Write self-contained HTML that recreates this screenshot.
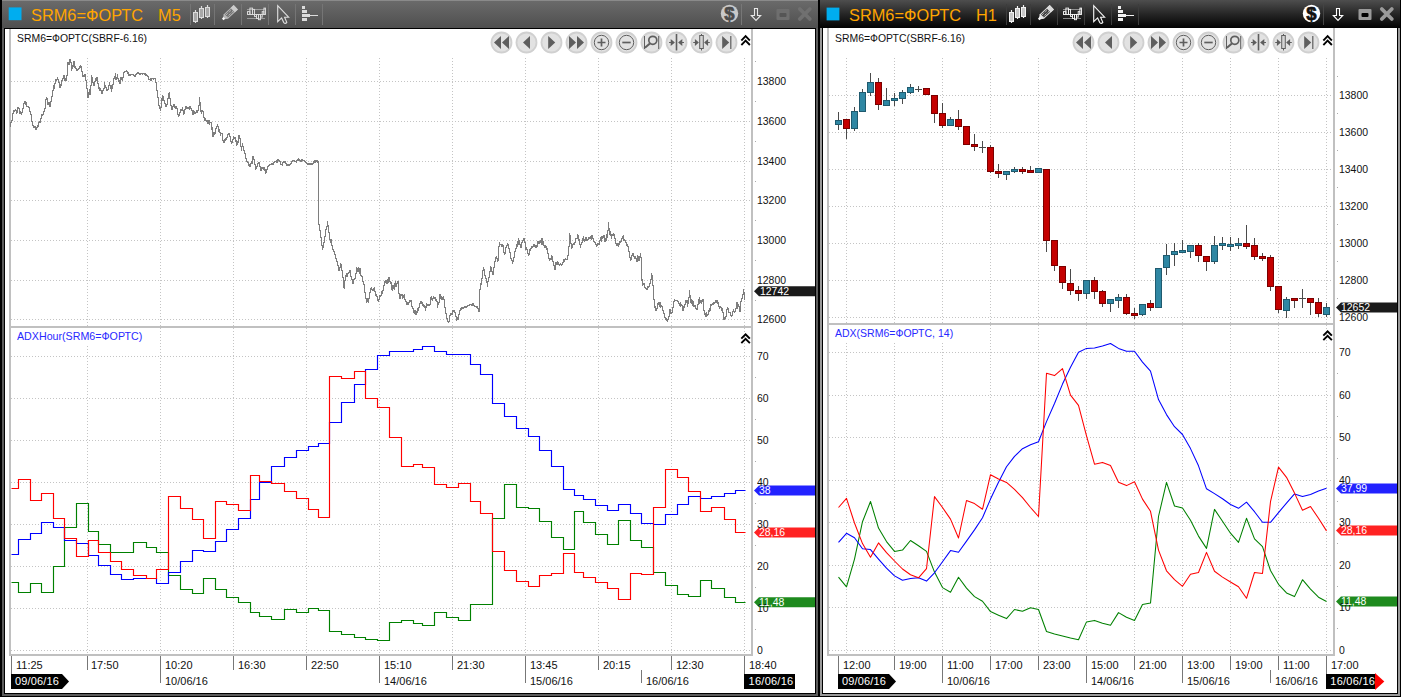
<!DOCTYPE html><html><head><meta charset="utf-8"><title>chart</title><style>
html,body{margin:0;padding:0;background:#000;}
body{width:1401px;height:697px;overflow:hidden;position:relative;font-family:"Liberation Sans", sans-serif;}
.t{position:absolute;white-space:nowrap;font-size:11px;line-height:11px;color:#111;}
.ti{position:absolute;white-space:nowrap;font-size:17px;line-height:18px;color:#ffa500;transform:scaleX(.962);transform-origin:0 0;}
.w{color:#fff;}
.b{color:#2828ff;}
svg{position:absolute;left:0;top:0;}

</style></head><body>
<svg width="1401" height="697" viewBox="0 0 1401 697">
<defs>
<linearGradient id="gl" x1="0" y1="0" x2="0" y2="1"><stop offset="0" stop-color="#6b6b6b"/><stop offset="1" stop-color="#4f4f4f"/></linearGradient>
<linearGradient id="gr" x1="0" y1="0" x2="0" y2="1"><stop offset="0" stop-color="#4e4e4e"/><stop offset="0.5" stop-color="#262626"/><stop offset="1" stop-color="#020202"/></linearGradient>
<radialGradient id="gb" cx="0.5" cy="0.5" r="0.5"><stop offset="0" stop-color="#e6e6e6"/><stop offset="0.8" stop-color="#e0e0e0"/><stop offset="1" stop-color="#cfcfcf"/></radialGradient>
</defs>
<g shape-rendering="crispEdges">
<rect x="0" y="0" width="1401" height="697" fill="#000"/>
<rect x="2" y="0" width="816" height="696" fill="#5c5c5c"/>
<rect x="2" y="0" width="816" height="28" fill="url(#gl)"/>
<rect x="2" y="0" width="816" height="1" fill="#8a8a8a"/>
<rect x="4" y="28" width="812" height="666" fill="#000"/>
<rect x="5" y="29" width="810" height="664" fill="#fff"/>
<rect x="818" y="0" width="583" height="697" fill="#000"/>
<rect x="820" y="0" width="580" height="28" fill="url(#gr)"/>
<rect x="820" y="28" width="580" height="668" fill="#9a9a9a"/>
<rect x="822" y="28" width="576" height="666" fill="#000"/>
<rect x="823" y="28" width="574" height="665" fill="#fff"/>
</g>
<g shape-rendering="crispEdges">
<rect x="9" y="29" width="2" height="627" fill="#c0c0c0"/>
<rect x="751" y="29" width="2" height="627" fill="#c0c0c0"/>
<rect x="9" y="326" width="744" height="2" fill="#c0c0c0"/>
<rect x="9" y="654" width="744" height="2" fill="#c0c0c0"/>
<path d="M87.5 58V326" stroke="#c4c4c4" stroke-width="1" stroke-dasharray="1 2" fill="none"/>
<path d="M87.5 328V654" stroke="#c4c4c4" stroke-width="1" stroke-dasharray="1 2" fill="none"/>
<path d="M160.5 58V326" stroke="#c4c4c4" stroke-width="1" stroke-dasharray="1 2" fill="none"/>
<path d="M160.5 328V654" stroke="#c4c4c4" stroke-width="1" stroke-dasharray="1 2" fill="none"/>
<path d="M233.5 58V326" stroke="#c4c4c4" stroke-width="1" stroke-dasharray="1 2" fill="none"/>
<path d="M233.5 328V654" stroke="#c4c4c4" stroke-width="1" stroke-dasharray="1 2" fill="none"/>
<path d="M306.5 58V326" stroke="#c4c4c4" stroke-width="1" stroke-dasharray="1 2" fill="none"/>
<path d="M306.5 328V654" stroke="#c4c4c4" stroke-width="1" stroke-dasharray="1 2" fill="none"/>
<path d="M379.5 58V326" stroke="#c4c4c4" stroke-width="1" stroke-dasharray="1 2" fill="none"/>
<path d="M379.5 328V654" stroke="#c4c4c4" stroke-width="1" stroke-dasharray="1 2" fill="none"/>
<path d="M452.5 58V326" stroke="#c4c4c4" stroke-width="1" stroke-dasharray="1 2" fill="none"/>
<path d="M452.5 328V654" stroke="#c4c4c4" stroke-width="1" stroke-dasharray="1 2" fill="none"/>
<path d="M525.5 58V326" stroke="#c4c4c4" stroke-width="1" stroke-dasharray="1 2" fill="none"/>
<path d="M525.5 328V654" stroke="#c4c4c4" stroke-width="1" stroke-dasharray="1 2" fill="none"/>
<path d="M598.5 58V326" stroke="#c4c4c4" stroke-width="1" stroke-dasharray="1 2" fill="none"/>
<path d="M598.5 328V654" stroke="#c4c4c4" stroke-width="1" stroke-dasharray="1 2" fill="none"/>
<path d="M671.5 58V326" stroke="#c4c4c4" stroke-width="1" stroke-dasharray="1 2" fill="none"/>
<path d="M671.5 328V654" stroke="#c4c4c4" stroke-width="1" stroke-dasharray="1 2" fill="none"/>
<path d="M744.5 58V326" stroke="#c4c4c4" stroke-width="1" stroke-dasharray="1 2" fill="none"/>
<path d="M744.5 328V654" stroke="#c4c4c4" stroke-width="1" stroke-dasharray="1 2" fill="none"/>
<path d="M11 81.5H751" stroke="#c4c4c4" stroke-width="1" stroke-dasharray="1 2" fill="none"/>
<path d="M11 121.5H751" stroke="#c4c4c4" stroke-width="1" stroke-dasharray="1 2" fill="none"/>
<path d="M11 161.5H751" stroke="#c4c4c4" stroke-width="1" stroke-dasharray="1 2" fill="none"/>
<path d="M11 200.5H751" stroke="#c4c4c4" stroke-width="1" stroke-dasharray="1 2" fill="none"/>
<path d="M11 240.5H751" stroke="#c4c4c4" stroke-width="1" stroke-dasharray="1 2" fill="none"/>
<path d="M11 280.5H751" stroke="#c4c4c4" stroke-width="1" stroke-dasharray="1 2" fill="none"/>
<path d="M11 319.5H751" stroke="#c4c4c4" stroke-width="1" stroke-dasharray="1 2" fill="none"/>
<path d="M11 356.5H751" stroke="#c4c4c4" stroke-width="1" stroke-dasharray="1 2" fill="none"/>
<path d="M11 398.5H751" stroke="#c4c4c4" stroke-width="1" stroke-dasharray="1 2" fill="none"/>
<path d="M11 440.5H751" stroke="#c4c4c4" stroke-width="1" stroke-dasharray="1 2" fill="none"/>
<path d="M11 482.5H751" stroke="#c4c4c4" stroke-width="1" stroke-dasharray="1 2" fill="none"/>
<path d="M11 524.5H751" stroke="#c4c4c4" stroke-width="1" stroke-dasharray="1 2" fill="none"/>
<path d="M11 566.5H751" stroke="#c4c4c4" stroke-width="1" stroke-dasharray="1 2" fill="none"/>
<path d="M11 608.5H751" stroke="#c4c4c4" stroke-width="1" stroke-dasharray="1 2" fill="none"/>
<path d="M11 650.5H751" stroke="#c4c4c4" stroke-width="1" stroke-dasharray="1 2" fill="none"/>
<rect x="11" y="328" width="134" height="18" fill="#fff"/>
<rect x="755" y="61" width="1" height="1" fill="#aaa"/>
<rect x="755" y="101" width="1" height="1" fill="#aaa"/>
<rect x="755" y="141" width="1" height="1" fill="#aaa"/>
<rect x="755" y="181" width="1" height="1" fill="#aaa"/>
<rect x="755" y="220" width="1" height="1" fill="#aaa"/>
<rect x="755" y="260" width="1" height="1" fill="#aaa"/>
<rect x="755" y="300" width="1" height="1" fill="#aaa"/>
<rect x="755" y="377" width="1" height="1" fill="#aaa"/>
<rect x="755" y="419" width="1" height="1" fill="#aaa"/>
<rect x="755" y="461" width="1" height="1" fill="#aaa"/>
<rect x="755" y="503" width="1" height="1" fill="#aaa"/>
<rect x="755" y="545" width="1" height="1" fill="#aaa"/>
<rect x="755" y="587" width="1" height="1" fill="#aaa"/>
<rect x="755" y="629" width="1" height="1" fill="#aaa"/>
<rect x="11" y="656" width="1" height="27" fill="#777"/>
<rect x="87" y="656" width="1" height="14" fill="#777"/>
<rect x="160" y="656" width="1" height="27" fill="#777"/>
<rect x="233" y="656" width="1" height="14" fill="#777"/>
<rect x="306" y="656" width="1" height="14" fill="#777"/>
<rect x="379" y="656" width="1" height="27" fill="#777"/>
<rect x="452" y="656" width="1" height="14" fill="#777"/>
<rect x="525" y="656" width="1" height="27" fill="#777"/>
<rect x="598" y="656" width="1" height="14" fill="#777"/>
<rect x="671" y="656" width="1" height="14" fill="#777"/>
<rect x="744" y="656" width="1" height="27" fill="#777"/>
<rect x="641" y="670" width="1" height="13" fill="#777"/>
<rect x="827" y="28" width="2" height="627" fill="#c0c0c0"/>
<rect x="1333" y="28" width="2" height="627" fill="#c0c0c0"/>
<rect x="827" y="323" width="508" height="2" fill="#c0c0c0"/>
<rect x="827" y="654" width="508" height="2" fill="#c0c0c0"/>
<path d="M846.5 58V323" stroke="#c4c4c4" stroke-width="1" stroke-dasharray="1 2" fill="none"/>
<path d="M846.5 325V654" stroke="#c4c4c4" stroke-width="1" stroke-dasharray="1 2" fill="none"/>
<path d="M894.5 58V323" stroke="#c4c4c4" stroke-width="1" stroke-dasharray="1 2" fill="none"/>
<path d="M894.5 325V654" stroke="#c4c4c4" stroke-width="1" stroke-dasharray="1 2" fill="none"/>
<path d="M942.5 58V323" stroke="#c4c4c4" stroke-width="1" stroke-dasharray="1 2" fill="none"/>
<path d="M942.5 325V654" stroke="#c4c4c4" stroke-width="1" stroke-dasharray="1 2" fill="none"/>
<path d="M990.5 58V323" stroke="#c4c4c4" stroke-width="1" stroke-dasharray="1 2" fill="none"/>
<path d="M990.5 325V654" stroke="#c4c4c4" stroke-width="1" stroke-dasharray="1 2" fill="none"/>
<path d="M1038.5 58V323" stroke="#c4c4c4" stroke-width="1" stroke-dasharray="1 2" fill="none"/>
<path d="M1038.5 325V654" stroke="#c4c4c4" stroke-width="1" stroke-dasharray="1 2" fill="none"/>
<path d="M1086.5 58V323" stroke="#c4c4c4" stroke-width="1" stroke-dasharray="1 2" fill="none"/>
<path d="M1086.5 325V654" stroke="#c4c4c4" stroke-width="1" stroke-dasharray="1 2" fill="none"/>
<path d="M1134.5 58V323" stroke="#c4c4c4" stroke-width="1" stroke-dasharray="1 2" fill="none"/>
<path d="M1134.5 325V654" stroke="#c4c4c4" stroke-width="1" stroke-dasharray="1 2" fill="none"/>
<path d="M1182.5 58V323" stroke="#c4c4c4" stroke-width="1" stroke-dasharray="1 2" fill="none"/>
<path d="M1182.5 325V654" stroke="#c4c4c4" stroke-width="1" stroke-dasharray="1 2" fill="none"/>
<path d="M1230.5 58V323" stroke="#c4c4c4" stroke-width="1" stroke-dasharray="1 2" fill="none"/>
<path d="M1230.5 325V654" stroke="#c4c4c4" stroke-width="1" stroke-dasharray="1 2" fill="none"/>
<path d="M1278.5 58V323" stroke="#c4c4c4" stroke-width="1" stroke-dasharray="1 2" fill="none"/>
<path d="M1278.5 325V654" stroke="#c4c4c4" stroke-width="1" stroke-dasharray="1 2" fill="none"/>
<path d="M1326.5 58V323" stroke="#c4c4c4" stroke-width="1" stroke-dasharray="1 2" fill="none"/>
<path d="M1326.5 325V654" stroke="#c4c4c4" stroke-width="1" stroke-dasharray="1 2" fill="none"/>
<path d="M829 95.5H1333" stroke="#c4c4c4" stroke-width="1" stroke-dasharray="1 2" fill="none"/>
<path d="M829 132.5H1333" stroke="#c4c4c4" stroke-width="1" stroke-dasharray="1 2" fill="none"/>
<path d="M829 169.5H1333" stroke="#c4c4c4" stroke-width="1" stroke-dasharray="1 2" fill="none"/>
<path d="M829 206.5H1333" stroke="#c4c4c4" stroke-width="1" stroke-dasharray="1 2" fill="none"/>
<path d="M829 243.5H1333" stroke="#c4c4c4" stroke-width="1" stroke-dasharray="1 2" fill="none"/>
<path d="M829 280.5H1333" stroke="#c4c4c4" stroke-width="1" stroke-dasharray="1 2" fill="none"/>
<path d="M829 317.5H1333" stroke="#c4c4c4" stroke-width="1" stroke-dasharray="1 2" fill="none"/>
<path d="M829 352.5H1333" stroke="#c4c4c4" stroke-width="1" stroke-dasharray="1 2" fill="none"/>
<path d="M829 395.5H1333" stroke="#c4c4c4" stroke-width="1" stroke-dasharray="1 2" fill="none"/>
<path d="M829 437.5H1333" stroke="#c4c4c4" stroke-width="1" stroke-dasharray="1 2" fill="none"/>
<path d="M829 480.5H1333" stroke="#c4c4c4" stroke-width="1" stroke-dasharray="1 2" fill="none"/>
<path d="M829 522.5H1333" stroke="#c4c4c4" stroke-width="1" stroke-dasharray="1 2" fill="none"/>
<path d="M829 565.5H1333" stroke="#c4c4c4" stroke-width="1" stroke-dasharray="1 2" fill="none"/>
<path d="M829 607.5H1333" stroke="#c4c4c4" stroke-width="1" stroke-dasharray="1 2" fill="none"/>
<path d="M829 650.5H1333" stroke="#c4c4c4" stroke-width="1" stroke-dasharray="1 2" fill="none"/>
<rect x="829" y="325" width="127" height="18" fill="#fff"/>
<rect x="1337" y="76" width="1" height="1" fill="#aaa"/>
<rect x="1337" y="113" width="1" height="1" fill="#aaa"/>
<rect x="1337" y="150" width="1" height="1" fill="#aaa"/>
<rect x="1337" y="187" width="1" height="1" fill="#aaa"/>
<rect x="1337" y="224" width="1" height="1" fill="#aaa"/>
<rect x="1337" y="261" width="1" height="1" fill="#aaa"/>
<rect x="1337" y="298" width="1" height="1" fill="#aaa"/>
<rect x="1337" y="373" width="1" height="1" fill="#aaa"/>
<rect x="1337" y="416" width="1" height="1" fill="#aaa"/>
<rect x="1337" y="458" width="1" height="1" fill="#aaa"/>
<rect x="1337" y="501" width="1" height="1" fill="#aaa"/>
<rect x="1337" y="543" width="1" height="1" fill="#aaa"/>
<rect x="1337" y="586" width="1" height="1" fill="#aaa"/>
<rect x="1337" y="628" width="1" height="1" fill="#aaa"/>
<rect x="838" y="656" width="1" height="27" fill="#777"/>
<rect x="894" y="656" width="1" height="14" fill="#777"/>
<rect x="942" y="656" width="1" height="27" fill="#777"/>
<rect x="990" y="656" width="1" height="14" fill="#777"/>
<rect x="1038" y="656" width="1" height="14" fill="#777"/>
<rect x="1086" y="656" width="1" height="27" fill="#777"/>
<rect x="1134" y="656" width="1" height="14" fill="#777"/>
<rect x="1182" y="656" width="1" height="27" fill="#777"/>
<rect x="1230" y="656" width="1" height="14" fill="#777"/>
<rect x="1278" y="656" width="1" height="14" fill="#777"/>
<rect x="1326" y="656" width="1" height="27" fill="#777"/>
<rect x="1270" y="670" width="1" height="13" fill="#777"/>
</g>
<g fill="#7e7e7e" shape-rendering="crispEdges"><rect x="10" y="122" width="1" height="5"/><rect x="11" y="120" width="1" height="3"/><rect x="12" y="113" width="1" height="8"/><rect x="13" y="110" width="1" height="4"/><rect x="14" y="110" width="1" height="2"/><rect x="15" y="109" width="1" height="2"/><rect x="16" y="110" width="1" height="4"/><rect x="17" y="107" width="1" height="6"/><rect x="18" y="107" width="1" height="2"/><rect x="19" y="108" width="1" height="6"/><rect x="20" y="111" width="1" height="3"/><rect x="21" y="112" width="1" height="3"/><rect x="22" y="108" width="1" height="5"/><rect x="23" y="103" width="1" height="6"/><rect x="24" y="101" width="1" height="3"/><rect x="25" y="101" width="1" height="4"/><rect x="26" y="102" width="1" height="5"/><rect x="27" y="106" width="1" height="1"/><rect x="28" y="106" width="1" height="2"/><rect x="29" y="107" width="1" height="5"/><rect x="30" y="111" width="1" height="4"/><rect x="31" y="114" width="1" height="8"/><rect x="32" y="121" width="1" height="5"/><rect x="33" y="125" width="1" height="3"/><rect x="34" y="126" width="1" height="2"/><rect x="35" y="126" width="1" height="4"/><rect x="36" y="127" width="1" height="3"/><rect x="37" y="125" width="1" height="3"/><rect x="38" y="122" width="1" height="5"/><rect x="39" y="121" width="1" height="2"/><rect x="40" y="118" width="1" height="5"/><rect x="41" y="114" width="1" height="5"/><rect x="42" y="114" width="1" height="2"/><rect x="43" y="111" width="1" height="4"/><rect x="44" y="108" width="1" height="4"/><rect x="45" y="99" width="1" height="10"/><rect x="46" y="97" width="1" height="3"/><rect x="47" y="98" width="1" height="7"/><rect x="48" y="102" width="1" height="3"/><rect x="49" y="102" width="1" height="5"/><rect x="50" y="101" width="1" height="6"/><rect x="51" y="96" width="1" height="6"/><rect x="52" y="90" width="1" height="7"/><rect x="53" y="85" width="1" height="6"/><rect x="54" y="83" width="1" height="6"/><rect x="55" y="79" width="1" height="5"/><rect x="56" y="79" width="1" height="2"/><rect x="57" y="77" width="1" height="3"/><rect x="58" y="79" width="1" height="4"/><rect x="59" y="82" width="1" height="6"/><rect x="60" y="84" width="1" height="4"/><rect x="61" y="80" width="1" height="6"/><rect x="62" y="78" width="1" height="3"/><rect x="63" y="75" width="1" height="4"/><rect x="64" y="75" width="1" height="6"/><rect x="65" y="78" width="1" height="3"/><rect x="66" y="75" width="1" height="6"/><rect x="67" y="62" width="1" height="14"/><rect x="68" y="62" width="1" height="3"/><rect x="69" y="59" width="1" height="6"/><rect x="70" y="59" width="1" height="4"/><rect x="71" y="62" width="1" height="9"/><rect x="72" y="65" width="1" height="4"/><rect x="73" y="61" width="1" height="6"/><rect x="74" y="61" width="1" height="7"/><rect x="75" y="66" width="1" height="3"/><rect x="76" y="68" width="1" height="3"/><rect x="77" y="69" width="1" height="2"/><rect x="78" y="68" width="1" height="2"/><rect x="79" y="66" width="1" height="3"/><rect x="80" y="65" width="1" height="3"/><rect x="81" y="66" width="1" height="6"/><rect x="82" y="71" width="1" height="6"/><rect x="83" y="75" width="1" height="2"/><rect x="84" y="74" width="1" height="3"/><rect x="85" y="74" width="1" height="7"/><rect x="86" y="80" width="1" height="9"/><rect x="87" y="88" width="1" height="10"/><rect x="88" y="92" width="1" height="6"/><rect x="89" y="89" width="1" height="6"/><rect x="90" y="85" width="1" height="10"/><rect x="91" y="75" width="1" height="11"/><rect x="92" y="77" width="1" height="6"/><rect x="93" y="82" width="1" height="4"/><rect x="94" y="81" width="1" height="5"/><rect x="95" y="78" width="1" height="4"/><rect x="96" y="77" width="1" height="4"/><rect x="97" y="77" width="1" height="7"/><rect x="98" y="83" width="1" height="6"/><rect x="99" y="87" width="1" height="4"/><rect x="100" y="88" width="1" height="3"/><rect x="101" y="90" width="1" height="4"/><rect x="102" y="90" width="1" height="4"/><rect x="103" y="88" width="1" height="3"/><rect x="104" y="82" width="1" height="7"/><rect x="105" y="85" width="1" height="3"/><rect x="106" y="87" width="1" height="4"/><rect x="107" y="89" width="1" height="2"/><rect x="108" y="85" width="1" height="5"/><rect x="109" y="82" width="1" height="4"/><rect x="110" y="85" width="1" height="4"/><rect x="111" y="85" width="1" height="7"/><rect x="112" y="84" width="1" height="5"/><rect x="113" y="78" width="1" height="7"/><rect x="114" y="76" width="1" height="3"/><rect x="115" y="73" width="1" height="7"/><rect x="116" y="77" width="1" height="3"/><rect x="117" y="74" width="1" height="5"/><rect x="118" y="78" width="1" height="4"/><rect x="119" y="80" width="1" height="4"/><rect x="120" y="77" width="1" height="7"/><rect x="121" y="77" width="1" height="3"/><rect x="122" y="77" width="1" height="4"/><rect x="123" y="72" width="1" height="6"/><rect x="124" y="71" width="1" height="2"/><rect x="125" y="71" width="1" height="1"/><rect x="126" y="70" width="1" height="2"/><rect x="127" y="71" width="1" height="3"/><rect x="128" y="72" width="1" height="4"/><rect x="129" y="74" width="1" height="2"/><rect x="130" y="74" width="1" height="2"/><rect x="131" y="74" width="1" height="1"/><rect x="132" y="74" width="1" height="1"/><rect x="133" y="74" width="1" height="2"/><rect x="134" y="75" width="1" height="2"/><rect x="135" y="74" width="1" height="3"/><rect x="136" y="73" width="1" height="2"/><rect x="137" y="72" width="1" height="2"/><rect x="138" y="72" width="1" height="2"/><rect x="139" y="73" width="1" height="2"/><rect x="140" y="73" width="1" height="2"/><rect x="141" y="73" width="1" height="1"/><rect x="142" y="73" width="1" height="2"/><rect x="143" y="73" width="1" height="1"/><rect x="144" y="73" width="1" height="2"/><rect x="145" y="73" width="1" height="3"/><rect x="146" y="74" width="1" height="2"/><rect x="147" y="75" width="1" height="2"/><rect x="148" y="76" width="1" height="4"/><rect x="149" y="79" width="1" height="1"/><rect x="150" y="78" width="1" height="3"/><rect x="151" y="78" width="1" height="3"/><rect x="152" y="78" width="1" height="1"/><rect x="153" y="78" width="1" height="2"/><rect x="154" y="78" width="1" height="1"/><rect x="155" y="78" width="1" height="5"/><rect x="156" y="82" width="1" height="9"/><rect x="157" y="90" width="1" height="8"/><rect x="158" y="97" width="1" height="9"/><rect x="159" y="105" width="1" height="4"/><rect x="160" y="107" width="1" height="4"/><rect x="161" y="98" width="1" height="10"/><rect x="162" y="95" width="1" height="6"/><rect x="163" y="96" width="1" height="5"/><rect x="164" y="100" width="1" height="4"/><rect x="165" y="103" width="1" height="4"/><rect x="166" y="104" width="1" height="3"/><rect x="167" y="98" width="1" height="7"/><rect x="168" y="93" width="1" height="6"/><rect x="169" y="92" width="1" height="7"/><rect x="170" y="98" width="1" height="8"/><rect x="171" y="105" width="1" height="5"/><rect x="172" y="106" width="1" height="4"/><rect x="173" y="104" width="1" height="3"/><rect x="174" y="104" width="1" height="4"/><rect x="175" y="106" width="1" height="3"/><rect x="176" y="106" width="1" height="3"/><rect x="177" y="108" width="1" height="7"/><rect x="178" y="114" width="1" height="3"/><rect x="179" y="112" width="1" height="4"/><rect x="180" y="109" width="1" height="4"/><rect x="181" y="109" width="1" height="2"/><rect x="182" y="107" width="1" height="4"/><rect x="183" y="110" width="1" height="5"/><rect x="184" y="109" width="1" height="5"/><rect x="185" y="106" width="1" height="4"/><rect x="186" y="106" width="1" height="3"/><rect x="187" y="107" width="1" height="2"/><rect x="188" y="107" width="1" height="2"/><rect x="189" y="106" width="1" height="4"/><rect x="190" y="106" width="1" height="3"/><rect x="191" y="108" width="1" height="3"/><rect x="192" y="110" width="1" height="5"/><rect x="193" y="110" width="1" height="5"/><rect x="194" y="111" width="1" height="3"/><rect x="195" y="112" width="1" height="2"/><rect x="196" y="110" width="1" height="3"/><rect x="197" y="110" width="1" height="3"/><rect x="198" y="105" width="1" height="6"/><rect x="199" y="97" width="1" height="9"/><rect x="200" y="102" width="1" height="10"/><rect x="201" y="110" width="1" height="4"/><rect x="202" y="110" width="1" height="2"/><rect x="203" y="111" width="1" height="7"/><rect x="204" y="117" width="1" height="4"/><rect x="205" y="118" width="1" height="3"/><rect x="206" y="120" width="1" height="2"/><rect x="207" y="120" width="1" height="4"/><rect x="208" y="120" width="1" height="4"/><rect x="209" y="120" width="1" height="5"/><rect x="210" y="122" width="1" height="1"/><rect x="211" y="122" width="1" height="8"/><rect x="212" y="127" width="1" height="10"/><rect x="213" y="132" width="1" height="5"/><rect x="214" y="132" width="1" height="3"/><rect x="215" y="128" width="1" height="6"/><rect x="216" y="126" width="1" height="3"/><rect x="217" y="124" width="1" height="3"/><rect x="218" y="126" width="1" height="6"/><rect x="219" y="129" width="1" height="4"/><rect x="220" y="132" width="1" height="4"/><rect x="221" y="133" width="1" height="1"/><rect x="222" y="133" width="1" height="8"/><rect x="223" y="140" width="1" height="3"/><rect x="224" y="139" width="1" height="4"/><rect x="225" y="138" width="1" height="3"/><rect x="226" y="137" width="1" height="3"/><rect x="227" y="134" width="1" height="4"/><rect x="228" y="133" width="1" height="2"/><rect x="229" y="133" width="1" height="4"/><rect x="230" y="136" width="1" height="6"/><rect x="231" y="141" width="1" height="3"/><rect x="232" y="139" width="1" height="4"/><rect x="233" y="136" width="1" height="4"/><rect x="234" y="137" width="1" height="2"/><rect x="235" y="137" width="1" height="5"/><rect x="236" y="140" width="1" height="6"/><rect x="237" y="141" width="1" height="4"/><rect x="238" y="135" width="1" height="8"/><rect x="239" y="135" width="1" height="4"/><rect x="240" y="138" width="1" height="9"/><rect x="241" y="146" width="1" height="5"/><rect x="242" y="143" width="1" height="4"/><rect x="243" y="146" width="1" height="5"/><rect x="244" y="150" width="1" height="4"/><rect x="245" y="153" width="1" height="6"/><rect x="246" y="158" width="1" height="4"/><rect x="247" y="161" width="1" height="2"/><rect x="248" y="162" width="1" height="4"/><rect x="249" y="164" width="1" height="3"/><rect x="250" y="163" width="1" height="4"/><rect x="251" y="161" width="1" height="3"/><rect x="252" y="156" width="1" height="8"/><rect x="253" y="156" width="1" height="4"/><rect x="254" y="159" width="1" height="6"/><rect x="255" y="164" width="1" height="6"/><rect x="256" y="166" width="1" height="3"/><rect x="257" y="163" width="1" height="4"/><rect x="258" y="162" width="1" height="2"/><rect x="259" y="162" width="1" height="5"/><rect x="260" y="166" width="1" height="5"/><rect x="261" y="167" width="1" height="4"/><rect x="262" y="167" width="1" height="2"/><rect x="263" y="167" width="1" height="3"/><rect x="264" y="167" width="1" height="4"/><rect x="265" y="169" width="1" height="5"/><rect x="266" y="169" width="1" height="4"/><rect x="267" y="166" width="1" height="4"/><rect x="268" y="165" width="1" height="2"/><rect x="269" y="164" width="1" height="2"/><rect x="270" y="164" width="1" height="1"/><rect x="271" y="163" width="1" height="2"/><rect x="272" y="163" width="1" height="2"/><rect x="273" y="162" width="1" height="3"/><rect x="274" y="161" width="1" height="2"/><rect x="275" y="161" width="1" height="1"/><rect x="276" y="160" width="1" height="3"/><rect x="277" y="159" width="1" height="4"/><rect x="278" y="159" width="1" height="2"/><rect x="279" y="160" width="1" height="2"/><rect x="280" y="161" width="1" height="4"/><rect x="281" y="164" width="1" height="1"/><rect x="282" y="162" width="1" height="4"/><rect x="283" y="161" width="1" height="2"/><rect x="284" y="161" width="1" height="2"/><rect x="285" y="161" width="1" height="3"/><rect x="286" y="163" width="1" height="3"/><rect x="287" y="164" width="1" height="2"/><rect x="288" y="164" width="1" height="2"/><rect x="289" y="164" width="1" height="2"/><rect x="290" y="163" width="1" height="2"/><rect x="291" y="161" width="1" height="3"/><rect x="292" y="160" width="1" height="2"/><rect x="293" y="160" width="1" height="1"/><rect x="294" y="160" width="1" height="2"/><rect x="295" y="161" width="1" height="1"/><rect x="296" y="160" width="1" height="3"/><rect x="297" y="159" width="1" height="2"/><rect x="298" y="158" width="1" height="3"/><rect x="299" y="159" width="1" height="2"/><rect x="300" y="160" width="1" height="2"/><rect x="301" y="159" width="1" height="3"/><rect x="302" y="159" width="1" height="2"/><rect x="303" y="160" width="1" height="1"/><rect x="304" y="160" width="1" height="2"/><rect x="305" y="161" width="1" height="2"/><rect x="306" y="162" width="1" height="2"/><rect x="307" y="163" width="1" height="2"/><rect x="308" y="163" width="1" height="2"/><rect x="309" y="163" width="1" height="2"/><rect x="310" y="163" width="1" height="2"/><rect x="311" y="163" width="1" height="2"/><rect x="312" y="163" width="1" height="2"/><rect x="313" y="161" width="1" height="3"/><rect x="314" y="160" width="1" height="3"/><rect x="315" y="160" width="1" height="3"/><rect x="316" y="160" width="1" height="2"/><rect x="317" y="160" width="1" height="3"/><rect x="318" y="161" width="1" height="64"/><rect x="319" y="224" width="1" height="7"/><rect x="320" y="230" width="1" height="8"/><rect x="321" y="237" width="1" height="9"/><rect x="322" y="245" width="1" height="5"/><rect x="323" y="242" width="1" height="6"/><rect x="324" y="236" width="1" height="7"/><rect x="325" y="229" width="1" height="8"/><rect x="326" y="226" width="1" height="4"/><rect x="327" y="221" width="1" height="6"/><rect x="328" y="225" width="1" height="8"/><rect x="329" y="232" width="1" height="8"/><rect x="330" y="239" width="1" height="4"/><rect x="331" y="239" width="1" height="7"/><rect x="332" y="245" width="1" height="5"/><rect x="333" y="249" width="1" height="3"/><rect x="334" y="251" width="1" height="4"/><rect x="335" y="254" width="1" height="5"/><rect x="336" y="258" width="1" height="4"/><rect x="337" y="261" width="1" height="5"/><rect x="338" y="265" width="1" height="6"/><rect x="339" y="267" width="1" height="4"/><rect x="340" y="263" width="1" height="5"/><rect x="341" y="264" width="1" height="7"/><rect x="342" y="270" width="1" height="8"/><rect x="343" y="277" width="1" height="11"/><rect x="344" y="280" width="1" height="9"/><rect x="345" y="275" width="1" height="6"/><rect x="346" y="273" width="1" height="4"/><rect x="347" y="273" width="1" height="4"/><rect x="348" y="272" width="1" height="2"/><rect x="349" y="270" width="1" height="3"/><rect x="350" y="270" width="1" height="7"/><rect x="351" y="276" width="1" height="4"/><rect x="352" y="279" width="1" height="5"/><rect x="353" y="279" width="1" height="5"/><rect x="354" y="278" width="1" height="2"/><rect x="355" y="273" width="1" height="6"/><rect x="356" y="267" width="1" height="7"/><rect x="357" y="268" width="1" height="4"/><rect x="358" y="267" width="1" height="5"/><rect x="359" y="268" width="1" height="6"/><rect x="360" y="268" width="1" height="8"/><rect x="361" y="275" width="1" height="2"/><rect x="362" y="276" width="1" height="6"/><rect x="363" y="281" width="1" height="4"/><rect x="364" y="284" width="1" height="9"/><rect x="365" y="292" width="1" height="7"/><rect x="366" y="298" width="1" height="5"/><rect x="367" y="298" width="1" height="4"/><rect x="368" y="298" width="1" height="5"/><rect x="369" y="292" width="1" height="7"/><rect x="370" y="288" width="1" height="5"/><rect x="371" y="287" width="1" height="3"/><rect x="372" y="289" width="1" height="2"/><rect x="373" y="288" width="1" height="3"/><rect x="374" y="287" width="1" height="5"/><rect x="375" y="291" width="1" height="5"/><rect x="376" y="294" width="1" height="3"/><rect x="377" y="296" width="1" height="5"/><rect x="378" y="299" width="1" height="3"/><rect x="379" y="295" width="1" height="5"/><rect x="380" y="295" width="1" height="2"/><rect x="381" y="291" width="1" height="5"/><rect x="382" y="290" width="1" height="4"/><rect x="383" y="285" width="1" height="6"/><rect x="384" y="281" width="1" height="5"/><rect x="385" y="280" width="1" height="3"/><rect x="386" y="280" width="1" height="4"/><rect x="387" y="279" width="1" height="5"/><rect x="388" y="277" width="1" height="6"/><rect x="389" y="277" width="1" height="5"/><rect x="390" y="281" width="1" height="3"/><rect x="391" y="282" width="1" height="8"/><rect x="392" y="285" width="1" height="6"/><rect x="393" y="285" width="1" height="4"/><rect x="394" y="283" width="1" height="7"/><rect x="395" y="281" width="1" height="6"/><rect x="396" y="283" width="1" height="4"/><rect x="397" y="281" width="1" height="3"/><rect x="398" y="281" width="1" height="13"/><rect x="399" y="293" width="1" height="6"/><rect x="400" y="294" width="1" height="5"/><rect x="401" y="294" width="1" height="2"/><rect x="402" y="294" width="1" height="5"/><rect x="403" y="295" width="1" height="3"/><rect x="404" y="294" width="1" height="6"/><rect x="405" y="299" width="1" height="3"/><rect x="406" y="301" width="1" height="4"/><rect x="407" y="302" width="1" height="3"/><rect x="408" y="302" width="1" height="3"/><rect x="409" y="300" width="1" height="3"/><rect x="410" y="300" width="1" height="2"/><rect x="411" y="300" width="1" height="7"/><rect x="412" y="306" width="1" height="3"/><rect x="413" y="308" width="1" height="5"/><rect x="414" y="310" width="1" height="4"/><rect x="415" y="310" width="1" height="5"/><rect x="416" y="311" width="1" height="4"/><rect x="417" y="308" width="1" height="5"/><rect x="418" y="307" width="1" height="4"/><rect x="419" y="303" width="1" height="5"/><rect x="420" y="301" width="1" height="3"/><rect x="421" y="301" width="1" height="3"/><rect x="422" y="302" width="1" height="4"/><rect x="423" y="304" width="1" height="3"/><rect x="424" y="305" width="1" height="3"/><rect x="425" y="306" width="1" height="5"/><rect x="426" y="303" width="1" height="5"/><rect x="427" y="304" width="1" height="2"/><rect x="428" y="304" width="1" height="2"/><rect x="429" y="304" width="1" height="2"/><rect x="430" y="297" width="1" height="8"/><rect x="431" y="296" width="1" height="4"/><rect x="432" y="298" width="1" height="3"/><rect x="433" y="296" width="1" height="3"/><rect x="434" y="297" width="1" height="2"/><rect x="435" y="297" width="1" height="4"/><rect x="436" y="299" width="1" height="3"/><rect x="437" y="301" width="1" height="7"/><rect x="438" y="302" width="1" height="3"/><rect x="439" y="294" width="1" height="9"/><rect x="440" y="294" width="1" height="5"/><rect x="441" y="296" width="1" height="4"/><rect x="442" y="297" width="1" height="3"/><rect x="443" y="296" width="1" height="4"/><rect x="444" y="299" width="1" height="9"/><rect x="445" y="307" width="1" height="7"/><rect x="446" y="313" width="1" height="6"/><rect x="447" y="318" width="1" height="4"/><rect x="448" y="321" width="1" height="2"/><rect x="449" y="315" width="1" height="7"/><rect x="450" y="313" width="1" height="3"/><rect x="451" y="313" width="1" height="2"/><rect x="452" y="310" width="1" height="5"/><rect x="453" y="310" width="1" height="2"/><rect x="454" y="310" width="1" height="3"/><rect x="455" y="312" width="1" height="5"/><rect x="456" y="316" width="1" height="5"/><rect x="457" y="317" width="1" height="3"/><rect x="458" y="314" width="1" height="6"/><rect x="459" y="310" width="1" height="5"/><rect x="460" y="308" width="1" height="3"/><rect x="461" y="307" width="1" height="3"/><rect x="462" y="307" width="1" height="2"/><rect x="463" y="307" width="1" height="2"/><rect x="464" y="306" width="1" height="2"/><rect x="465" y="306" width="1" height="2"/><rect x="466" y="306" width="1" height="2"/><rect x="467" y="305" width="1" height="2"/><rect x="468" y="305" width="1" height="1"/><rect x="469" y="304" width="1" height="2"/><rect x="470" y="304" width="1" height="1"/><rect x="471" y="304" width="1" height="2"/><rect x="472" y="303" width="1" height="3"/><rect x="473" y="303" width="1" height="3"/><rect x="474" y="305" width="1" height="2"/><rect x="475" y="306" width="1" height="1"/><rect x="476" y="306" width="1" height="2"/><rect x="477" y="306" width="1" height="3"/><rect x="478" y="308" width="1" height="4"/><rect x="479" y="289" width="1" height="23"/><rect x="480" y="283" width="1" height="7"/><rect x="481" y="278" width="1" height="7"/><rect x="482" y="270" width="1" height="9"/><rect x="483" y="267" width="1" height="4"/><rect x="484" y="269" width="1" height="7"/><rect x="485" y="275" width="1" height="4"/><rect x="486" y="278" width="1" height="5"/><rect x="487" y="281" width="1" height="6"/><rect x="488" y="277" width="1" height="5"/><rect x="489" y="271" width="1" height="7"/><rect x="490" y="266" width="1" height="6"/><rect x="491" y="267" width="1" height="5"/><rect x="492" y="271" width="1" height="4"/><rect x="493" y="267" width="1" height="8"/><rect x="494" y="261" width="1" height="7"/><rect x="495" y="257" width="1" height="5"/><rect x="496" y="256" width="1" height="3"/><rect x="497" y="258" width="1" height="4"/><rect x="498" y="246" width="1" height="15"/><rect x="499" y="242" width="1" height="5"/><rect x="500" y="244" width="1" height="1"/><rect x="501" y="244" width="1" height="3"/><rect x="502" y="244" width="1" height="3"/><rect x="503" y="245" width="1" height="8"/><rect x="504" y="252" width="1" height="3"/><rect x="505" y="247" width="1" height="7"/><rect x="506" y="245" width="1" height="3"/><rect x="507" y="243" width="1" height="3"/><rect x="508" y="244" width="1" height="5"/><rect x="509" y="248" width="1" height="5"/><rect x="510" y="252" width="1" height="7"/><rect x="511" y="258" width="1" height="3"/><rect x="512" y="260" width="1" height="4"/><rect x="513" y="257" width="1" height="5"/><rect x="514" y="251" width="1" height="7"/><rect x="515" y="248" width="1" height="4"/><rect x="516" y="244" width="1" height="5"/><rect x="517" y="241" width="1" height="6"/><rect x="518" y="238" width="1" height="7"/><rect x="519" y="240" width="1" height="5"/><rect x="520" y="244" width="1" height="4"/><rect x="521" y="242" width="1" height="6"/><rect x="522" y="240" width="1" height="3"/><rect x="523" y="238" width="1" height="3"/><rect x="524" y="238" width="1" height="5"/><rect x="525" y="242" width="1" height="8"/><rect x="526" y="247" width="1" height="3"/><rect x="527" y="249" width="1" height="5"/><rect x="528" y="253" width="1" height="3"/><rect x="529" y="249" width="1" height="6"/><rect x="530" y="248" width="1" height="3"/><rect x="531" y="246" width="1" height="3"/><rect x="532" y="246" width="1" height="2"/><rect x="533" y="244" width="1" height="3"/><rect x="534" y="244" width="1" height="3"/><rect x="535" y="245" width="1" height="3"/><rect x="536" y="245" width="1" height="3"/><rect x="537" y="241" width="1" height="6"/><rect x="538" y="241" width="1" height="3"/><rect x="539" y="241" width="1" height="3"/><rect x="540" y="240" width="1" height="3"/><rect x="541" y="238" width="1" height="7"/><rect x="542" y="238" width="1" height="7"/><rect x="543" y="241" width="1" height="5"/><rect x="544" y="245" width="1" height="3"/><rect x="545" y="245" width="1" height="3"/><rect x="546" y="246" width="1" height="4"/><rect x="547" y="248" width="1" height="6"/><rect x="548" y="253" width="1" height="6"/><rect x="549" y="258" width="1" height="3"/><rect x="550" y="258" width="1" height="2"/><rect x="551" y="255" width="1" height="5"/><rect x="552" y="256" width="1" height="6"/><rect x="553" y="261" width="1" height="5"/><rect x="554" y="265" width="1" height="5"/><rect x="555" y="262" width="1" height="8"/><rect x="556" y="262" width="1" height="3"/><rect x="557" y="261" width="1" height="4"/><rect x="558" y="262" width="1" height="3"/><rect x="559" y="264" width="1" height="2"/><rect x="560" y="263" width="1" height="2"/><rect x="561" y="264" width="1" height="2"/><rect x="562" y="262" width="1" height="3"/><rect x="563" y="259" width="1" height="4"/><rect x="564" y="259" width="1" height="3"/><rect x="565" y="258" width="1" height="2"/><rect x="566" y="259" width="1" height="1"/><rect x="567" y="255" width="1" height="5"/><rect x="568" y="246" width="1" height="10"/><rect x="569" y="233" width="1" height="14"/><rect x="570" y="235" width="1" height="9"/><rect x="571" y="243" width="1" height="6"/><rect x="572" y="244" width="1" height="4"/><rect x="573" y="243" width="1" height="2"/><rect x="574" y="242" width="1" height="3"/><rect x="575" y="238" width="1" height="5"/><rect x="576" y="238" width="1" height="1"/><rect x="577" y="234" width="1" height="5"/><rect x="578" y="235" width="1" height="6"/><rect x="579" y="239" width="1" height="6"/><rect x="580" y="244" width="1" height="4"/><rect x="581" y="242" width="1" height="3"/><rect x="582" y="238" width="1" height="5"/><rect x="583" y="236" width="1" height="5"/><rect x="584" y="239" width="1" height="3"/><rect x="585" y="237" width="1" height="4"/><rect x="586" y="237" width="1" height="4"/><rect x="587" y="239" width="1" height="2"/><rect x="588" y="237" width="1" height="3"/><rect x="589" y="237" width="1" height="2"/><rect x="590" y="236" width="1" height="3"/><rect x="591" y="235" width="1" height="5"/><rect x="592" y="235" width="1" height="4"/><rect x="593" y="238" width="1" height="4"/><rect x="594" y="241" width="1" height="2"/><rect x="595" y="242" width="1" height="3"/><rect x="596" y="244" width="1" height="3"/><rect x="597" y="243" width="1" height="3"/><rect x="598" y="243" width="1" height="2"/><rect x="599" y="240" width="1" height="5"/><rect x="600" y="237" width="1" height="4"/><rect x="601" y="236" width="1" height="6"/><rect x="602" y="236" width="1" height="3"/><rect x="603" y="235" width="1" height="3"/><rect x="604" y="235" width="1" height="7"/><rect x="605" y="238" width="1" height="4"/><rect x="606" y="234" width="1" height="7"/><rect x="607" y="230" width="1" height="8"/><rect x="608" y="222" width="1" height="9"/><rect x="609" y="228" width="1" height="7"/><rect x="610" y="231" width="1" height="5"/><rect x="611" y="234" width="1" height="5"/><rect x="612" y="234" width="1" height="2"/><rect x="613" y="233" width="1" height="3"/><rect x="614" y="234" width="1" height="5"/><rect x="615" y="238" width="1" height="6"/><rect x="616" y="243" width="1" height="3"/><rect x="617" y="243" width="1" height="3"/><rect x="618" y="243" width="1" height="4"/><rect x="619" y="241" width="1" height="4"/><rect x="620" y="241" width="1" height="2"/><rect x="621" y="238" width="1" height="4"/><rect x="622" y="236" width="1" height="3"/><rect x="623" y="235" width="1" height="6"/><rect x="624" y="239" width="1" height="2"/><rect x="625" y="240" width="1" height="3"/><rect x="626" y="242" width="1" height="4"/><rect x="627" y="244" width="1" height="3"/><rect x="628" y="246" width="1" height="6"/><rect x="629" y="251" width="1" height="7"/><rect x="630" y="257" width="1" height="4"/><rect x="631" y="255" width="1" height="5"/><rect x="632" y="253" width="1" height="3"/><rect x="633" y="253" width="1" height="4"/><rect x="634" y="256" width="1" height="3"/><rect x="635" y="256" width="1" height="3"/><rect x="636" y="258" width="1" height="4"/><rect x="637" y="255" width="1" height="7"/><rect x="638" y="256" width="1" height="5"/><rect x="639" y="256" width="1" height="5"/><rect x="640" y="253" width="1" height="5"/><rect x="641" y="257" width="1" height="24"/><rect x="642" y="279" width="1" height="7"/><rect x="643" y="283" width="1" height="2"/><rect x="644" y="283" width="1" height="5"/><rect x="645" y="287" width="1" height="2"/><rect x="646" y="288" width="1" height="2"/><rect x="647" y="286" width="1" height="4"/><rect x="648" y="286" width="1" height="2"/><rect x="649" y="283" width="1" height="4"/><rect x="650" y="279" width="1" height="5"/><rect x="651" y="273" width="1" height="7"/><rect x="652" y="275" width="1" height="11"/><rect x="653" y="285" width="1" height="15"/><rect x="654" y="299" width="1" height="9"/><rect x="655" y="306" width="1" height="5"/><rect x="656" y="308" width="1" height="3"/><rect x="657" y="303" width="1" height="6"/><rect x="658" y="302" width="1" height="3"/><rect x="659" y="302" width="1" height="5"/><rect x="660" y="302" width="1" height="6"/><rect x="661" y="305" width="1" height="2"/><rect x="662" y="306" width="1" height="5"/><rect x="663" y="310" width="1" height="4"/><rect x="664" y="313" width="1" height="5"/><rect x="665" y="317" width="1" height="3"/><rect x="666" y="318" width="1" height="3"/><rect x="667" y="319" width="1" height="3"/><rect x="668" y="316" width="1" height="4"/><rect x="669" y="309" width="1" height="8"/><rect x="670" y="309" width="1" height="5"/><rect x="671" y="312" width="1" height="2"/><rect x="672" y="307" width="1" height="6"/><rect x="673" y="301" width="1" height="7"/><rect x="674" y="299" width="1" height="3"/><rect x="675" y="300" width="1" height="1"/><rect x="676" y="300" width="1" height="1"/><rect x="677" y="300" width="1" height="2"/><rect x="678" y="301" width="1" height="3"/><rect x="679" y="303" width="1" height="3"/><rect x="680" y="302" width="1" height="5"/><rect x="681" y="304" width="1" height="2"/><rect x="682" y="305" width="1" height="6"/><rect x="683" y="306" width="1" height="5"/><rect x="684" y="304" width="1" height="4"/><rect x="685" y="300" width="1" height="5"/><rect x="686" y="300" width="1" height="3"/><rect x="687" y="300" width="1" height="7"/><rect x="688" y="297" width="1" height="7"/><rect x="689" y="290" width="1" height="8"/><rect x="690" y="295" width="1" height="8"/><rect x="691" y="299" width="1" height="5"/><rect x="692" y="300" width="1" height="6"/><rect x="693" y="301" width="1" height="6"/><rect x="694" y="305" width="1" height="2"/><rect x="695" y="305" width="1" height="4"/><rect x="696" y="308" width="1" height="2"/><rect x="697" y="304" width="1" height="6"/><rect x="698" y="299" width="1" height="6"/><rect x="699" y="297" width="1" height="7"/><rect x="700" y="300" width="1" height="3"/><rect x="701" y="300" width="1" height="4"/><rect x="702" y="299" width="1" height="3"/><rect x="703" y="299" width="1" height="12"/><rect x="704" y="310" width="1" height="5"/><rect x="705" y="313" width="1" height="4"/><rect x="706" y="312" width="1" height="5"/><rect x="707" y="314" width="1" height="2"/><rect x="708" y="310" width="1" height="5"/><rect x="709" y="308" width="1" height="4"/><rect x="710" y="304" width="1" height="7"/><rect x="711" y="304" width="1" height="2"/><rect x="712" y="303" width="1" height="2"/><rect x="713" y="302" width="1" height="3"/><rect x="714" y="302" width="1" height="2"/><rect x="715" y="300" width="1" height="3"/><rect x="716" y="300" width="1" height="3"/><rect x="717" y="300" width="1" height="4"/><rect x="718" y="302" width="1" height="5"/><rect x="719" y="306" width="1" height="3"/><rect x="720" y="306" width="1" height="2"/><rect x="721" y="307" width="1" height="4"/><rect x="722" y="308" width="1" height="5"/><rect x="723" y="312" width="1" height="8"/><rect x="724" y="317" width="1" height="3"/><rect x="725" y="316" width="1" height="3"/><rect x="726" y="309" width="1" height="8"/><rect x="727" y="307" width="1" height="3"/><rect x="728" y="308" width="1" height="5"/><rect x="729" y="312" width="1" height="1"/><rect x="730" y="312" width="1" height="4"/><rect x="731" y="315" width="1" height="2"/><rect x="732" y="311" width="1" height="5"/><rect x="733" y="309" width="1" height="3"/><rect x="734" y="311" width="1" height="2"/><rect x="735" y="308" width="1" height="4"/><rect x="736" y="302" width="1" height="7"/><rect x="737" y="302" width="1" height="7"/><rect x="738" y="304" width="1" height="3"/><rect x="739" y="306" width="1" height="6"/><rect x="740" y="301" width="1" height="11"/><rect x="741" y="298" width="1" height="4"/><rect x="742" y="294" width="1" height="5"/><rect x="743" y="289" width="1" height="6"/><rect x="744" y="292" width="1" height="8"/></g>
<path d="M11.5 582.5 H18.5 V592.5 H30.5 V583.5 H41.5 V592.5 H53.5 V566.5 H64.5 V527.5 H76.5 V503.5 H88.5 V531.5 H98.5 V544.5 H110.5 V552.5 H121.5 V552.5 H133.5 V542.5 H146.5 V547.5 H156.5 V552.5 H168.5 V575.5 H180.5 V589.5 H192.5 V593.5 H203.5 V578.5 H215.5 V589.5 H226.5 V597.5 H238.5 V602.5 H250.5 V612.5 H259.5 V616.5 H271.5 V619.5 H284.5 V609.5 H296.5 V612.5 H308.5 V608.5 H318.5 V610.5 H329.5 V631.5 H341.5 V634.5 H354.5 V637.5 H365.5 V639.5 H377.5 V640.5 H389.5 V622.5 H401.5 V620.5 H413.5 V623.5 H422.5 V625.5 H434.5 V612.5 H446.5 V617.5 H458.5 V620.5 H470.5 V604.5 H480.5 V604.5 H492.5 V518.5 H504.5 V484.5 H516.5 V507.5 H528.5 V508.5 H539.5 V521.5 H551.5 V537.5 H563.5 V549.5 H574.5 V511.5 H583.5 V522.5 H595.5 V534.5 H607.5 V544.5 H618.5 V520.5 H630.5 V540.5 H641.5 V547.5 H653.5 V572.5 H665.5 V585.5 H677.5 V594.5 H688.5 V596.5 H700.5 V580.5 H711.5 V588.5 H724.5 V597.5 H735.5 V602.5 H745.5" fill="none" stroke="#008000" stroke-width="1.150" stroke-linejoin="miter"/>
<path d="M11.5 554.5 H18.5 V539.5 H30.5 V533.5 H41.5 V522.5 H53.5 V527.5 H64.5 V540.5 H76.5 V543.5 H88.5 V555.5 H98.5 V565.5 H110.5 V574.5 H121.5 V579.5 H133.5 V578.5 H146.5 V578.5 H156.5 V583.5 H168.5 V572.5 H180.5 V561.5 H192.5 V550.5 H203.5 V551.5 H215.5 V541.5 H226.5 V529.5 H238.5 V518.5 H250.5 V499.5 H259.5 V482.5 H271.5 V466.5 H284.5 V457.5 H296.5 V450.5 H308.5 V446.5 H318.5 V443.5 H329.5 V422.5 H341.5 V402.5 H354.5 V384.5 H365.5 V369.5 H377.5 V355.5 H389.5 V351.5 H401.5 V351.5 H413.5 V349.5 H422.5 V346.5 H434.5 V351.5 H446.5 V354.5 H458.5 V354.5 H470.5 V364.5 H480.5 V374.5 H492.5 V403.5 H504.5 V416.5 H516.5 V428.5 H528.5 V436.5 H539.5 V450.5 H551.5 V466.5 H563.5 V489.5 H574.5 V495.5 H583.5 V499.5 H595.5 V505.5 H607.5 V510.5 H618.5 V504.5 H630.5 V513.5 H641.5 V523.5 H653.5 V524.5 H665.5 V514.5 H677.5 V504.5 H688.5 V496.5 H700.5 V498.5 H711.5 V496.5 H724.5 V493.5 H735.5 V490.5 H745.5" fill="none" stroke="#0000ff" stroke-width="1.150" stroke-linejoin="miter"/>
<path d="M11.5 488.5 H18.5 V479.5 H30.5 V500.5 H41.5 V493.5 H53.5 V518.5 H64.5 V538.5 H76.5 V556.5 H88.5 V540.5 H98.5 V552.5 H110.5 V561.5 H121.5 V569.5 H133.5 V575.5 H146.5 V578.5 H156.5 V569.5 H168.5 V496.5 H180.5 V508.5 H192.5 V519.5 H203.5 V538.5 H215.5 V501.5 H226.5 V504.5 H238.5 V510.5 H250.5 V475.5 H259.5 V481.5 H271.5 V483.5 H284.5 V491.5 H296.5 V498.5 H308.5 V509.5 H318.5 V517.5 H329.5 V376.5 H341.5 V378.5 H354.5 V371.5 H365.5 V398.5 H377.5 V407.5 H389.5 V437.5 H401.5 V466.5 H413.5 V464.5 H422.5 V467.5 H434.5 V484.5 H446.5 V487.5 H458.5 V483.5 H470.5 V501.5 H480.5 V513.5 H492.5 V551.5 H504.5 V570.5 H516.5 V581.5 H528.5 V586.5 H539.5 V575.5 H551.5 V573.5 H563.5 V553.5 H574.5 V572.5 H583.5 V577.5 H595.5 V582.5 H607.5 V588.5 H618.5 V599.5 H630.5 V573.5 H641.5 V574.5 H653.5 V507.5 H665.5 V469.5 H677.5 V477.5 H688.5 V491.5 H700.5 V511.5 H711.5 V507.5 H724.5 V519.5 H735.5 V532.5 H745.5" fill="none" stroke="#ff0000" stroke-width="1.150" stroke-linejoin="miter"/>
<g shape-rendering="crispEdges">
<rect x="838" y="112" width="1" height="18" fill="#4a4a4a"/>
<rect x="835" y="120" width="7" height="5" fill="#1f5a6e"/>
<rect x="836" y="121" width="5" height="3" fill="#2f87a3"/>
<rect x="846" y="119" width="1" height="20" fill="#4a4a4a"/>
<rect x="843" y="119" width="7" height="10" fill="#7a0000"/>
<rect x="844" y="120" width="5" height="8" fill="#c40000"/>
<rect x="854" y="107" width="1" height="24" fill="#4a4a4a"/>
<rect x="851" y="111" width="7" height="18" fill="#1f5a6e"/>
<rect x="852" y="112" width="5" height="16" fill="#2f87a3"/>
<rect x="862" y="89" width="1" height="23" fill="#4a4a4a"/>
<rect x="859" y="92" width="7" height="20" fill="#1f5a6e"/>
<rect x="860" y="93" width="5" height="18" fill="#2f87a3"/>
<rect x="870" y="73" width="1" height="23" fill="#4a4a4a"/>
<rect x="867" y="82" width="7" height="11" fill="#1f5a6e"/>
<rect x="868" y="83" width="5" height="9" fill="#2f87a3"/>
<rect x="878" y="78" width="1" height="32" fill="#4a4a4a"/>
<rect x="875" y="82" width="7" height="23" fill="#7a0000"/>
<rect x="876" y="83" width="5" height="21" fill="#c40000"/>
<rect x="886" y="88" width="1" height="18" fill="#4a4a4a"/>
<rect x="883" y="100" width="7" height="6" fill="#1f5a6e"/>
<rect x="884" y="101" width="5" height="4" fill="#2f87a3"/>
<rect x="894" y="93" width="1" height="13" fill="#4a4a4a"/>
<rect x="891" y="98" width="7" height="3" fill="#1f5a6e"/>
<rect x="892" y="99" width="5" height="1" fill="#2f87a3"/>
<rect x="902" y="90" width="1" height="14" fill="#4a4a4a"/>
<rect x="899" y="92" width="7" height="7" fill="#1f5a6e"/>
<rect x="900" y="93" width="5" height="5" fill="#2f87a3"/>
<rect x="910" y="84" width="1" height="10" fill="#4a4a4a"/>
<rect x="907" y="87" width="7" height="6" fill="#1f5a6e"/>
<rect x="908" y="88" width="5" height="4" fill="#2f87a3"/>
<rect x="918" y="86" width="1" height="6" fill="#4a4a4a"/>
<rect x="915" y="89" width="7" height="1" fill="#4a4a4a"/>
<rect x="926" y="88" width="1" height="7" fill="#4a4a4a"/>
<rect x="923" y="88" width="7" height="7" fill="#7a0000"/>
<rect x="924" y="89" width="5" height="5" fill="#c40000"/>
<rect x="934" y="95" width="1" height="28" fill="#4a4a4a"/>
<rect x="931" y="95" width="7" height="19" fill="#7a0000"/>
<rect x="932" y="96" width="5" height="17" fill="#c40000"/>
<rect x="942" y="103" width="1" height="25" fill="#4a4a4a"/>
<rect x="939" y="113" width="7" height="13" fill="#7a0000"/>
<rect x="940" y="114" width="5" height="11" fill="#c40000"/>
<rect x="950" y="117" width="1" height="9" fill="#4a4a4a"/>
<rect x="947" y="119" width="7" height="7" fill="#1f5a6e"/>
<rect x="948" y="120" width="5" height="5" fill="#2f87a3"/>
<rect x="958" y="110" width="1" height="20" fill="#4a4a4a"/>
<rect x="955" y="119" width="7" height="8" fill="#7a0000"/>
<rect x="956" y="120" width="5" height="6" fill="#c40000"/>
<rect x="966" y="126" width="1" height="19" fill="#4a4a4a"/>
<rect x="963" y="126" width="7" height="19" fill="#7a0000"/>
<rect x="964" y="127" width="5" height="17" fill="#c40000"/>
<rect x="974" y="134" width="1" height="17" fill="#4a4a4a"/>
<rect x="971" y="144" width="7" height="3" fill="#7a0000"/>
<rect x="972" y="145" width="5" height="1" fill="#c40000"/>
<rect x="982" y="141" width="1" height="12" fill="#4a4a4a"/>
<rect x="979" y="147" width="7" height="1" fill="#4a4a4a"/>
<rect x="990" y="145" width="1" height="28" fill="#4a4a4a"/>
<rect x="987" y="147" width="7" height="25" fill="#7a0000"/>
<rect x="988" y="148" width="5" height="23" fill="#c40000"/>
<rect x="998" y="164" width="1" height="14" fill="#4a4a4a"/>
<rect x="995" y="171" width="7" height="3" fill="#7a0000"/>
<rect x="996" y="172" width="5" height="1" fill="#c40000"/>
<rect x="1006" y="171" width="1" height="9" fill="#4a4a4a"/>
<rect x="1003" y="171" width="7" height="4" fill="#1f5a6e"/>
<rect x="1004" y="172" width="5" height="2" fill="#2f87a3"/>
<rect x="1014" y="167" width="1" height="6" fill="#4a4a4a"/>
<rect x="1011" y="169" width="7" height="3" fill="#1f5a6e"/>
<rect x="1012" y="170" width="5" height="1" fill="#2f87a3"/>
<rect x="1022" y="167" width="1" height="7" fill="#4a4a4a"/>
<rect x="1019" y="169" width="7" height="3" fill="#7a0000"/>
<rect x="1020" y="170" width="5" height="1" fill="#c40000"/>
<rect x="1030" y="166" width="1" height="7" fill="#4a4a4a"/>
<rect x="1027" y="170" width="7" height="3" fill="#7a0000"/>
<rect x="1028" y="171" width="5" height="1" fill="#c40000"/>
<rect x="1038" y="168" width="1" height="5" fill="#4a4a4a"/>
<rect x="1035" y="168" width="7" height="5" fill="#1f5a6e"/>
<rect x="1036" y="169" width="5" height="3" fill="#2f87a3"/>
<rect x="1046" y="169" width="1" height="83" fill="#4a4a4a"/>
<rect x="1043" y="169" width="7" height="72" fill="#7a0000"/>
<rect x="1044" y="170" width="5" height="70" fill="#c40000"/>
<rect x="1054" y="240" width="1" height="31" fill="#4a4a4a"/>
<rect x="1051" y="240" width="7" height="26" fill="#7a0000"/>
<rect x="1052" y="241" width="5" height="24" fill="#c40000"/>
<rect x="1062" y="266" width="1" height="23" fill="#4a4a4a"/>
<rect x="1059" y="266" width="7" height="17" fill="#7a0000"/>
<rect x="1060" y="267" width="5" height="15" fill="#c40000"/>
<rect x="1070" y="269" width="1" height="26" fill="#4a4a4a"/>
<rect x="1067" y="283" width="7" height="8" fill="#7a0000"/>
<rect x="1068" y="284" width="5" height="6" fill="#c40000"/>
<rect x="1078" y="286" width="1" height="15" fill="#4a4a4a"/>
<rect x="1075" y="290" width="7" height="4" fill="#7a0000"/>
<rect x="1076" y="291" width="5" height="2" fill="#c40000"/>
<rect x="1086" y="280" width="1" height="19" fill="#4a4a4a"/>
<rect x="1083" y="280" width="7" height="14" fill="#1f5a6e"/>
<rect x="1084" y="281" width="5" height="12" fill="#2f87a3"/>
<rect x="1094" y="277" width="1" height="22" fill="#4a4a4a"/>
<rect x="1091" y="280" width="7" height="12" fill="#7a0000"/>
<rect x="1092" y="281" width="5" height="10" fill="#c40000"/>
<rect x="1102" y="290" width="1" height="17" fill="#4a4a4a"/>
<rect x="1099" y="291" width="7" height="13" fill="#7a0000"/>
<rect x="1100" y="292" width="5" height="11" fill="#c40000"/>
<rect x="1110" y="299" width="1" height="13" fill="#4a4a4a"/>
<rect x="1107" y="299" width="7" height="5" fill="#1f5a6e"/>
<rect x="1108" y="300" width="5" height="3" fill="#2f87a3"/>
<rect x="1118" y="294" width="1" height="14" fill="#4a4a4a"/>
<rect x="1115" y="297" width="7" height="4" fill="#1f5a6e"/>
<rect x="1116" y="298" width="5" height="2" fill="#2f87a3"/>
<rect x="1126" y="294" width="1" height="21" fill="#4a4a4a"/>
<rect x="1123" y="297" width="7" height="17" fill="#7a0000"/>
<rect x="1124" y="298" width="5" height="15" fill="#c40000"/>
<rect x="1134" y="308" width="1" height="11" fill="#4a4a4a"/>
<rect x="1131" y="313" width="7" height="3" fill="#7a0000"/>
<rect x="1132" y="314" width="5" height="1" fill="#c40000"/>
<rect x="1142" y="304" width="1" height="12" fill="#4a4a4a"/>
<rect x="1139" y="304" width="7" height="11" fill="#1f5a6e"/>
<rect x="1140" y="305" width="5" height="9" fill="#2f87a3"/>
<rect x="1150" y="300" width="1" height="11" fill="#4a4a4a"/>
<rect x="1147" y="303" width="7" height="5" fill="#7a0000"/>
<rect x="1148" y="304" width="5" height="3" fill="#c40000"/>
<rect x="1158" y="268" width="1" height="40" fill="#4a4a4a"/>
<rect x="1155" y="268" width="7" height="40" fill="#1f5a6e"/>
<rect x="1156" y="269" width="5" height="38" fill="#2f87a3"/>
<rect x="1166" y="244" width="1" height="31" fill="#4a4a4a"/>
<rect x="1163" y="255" width="7" height="13" fill="#1f5a6e"/>
<rect x="1164" y="256" width="5" height="11" fill="#2f87a3"/>
<rect x="1174" y="243" width="1" height="23" fill="#4a4a4a"/>
<rect x="1171" y="251" width="7" height="4" fill="#1f5a6e"/>
<rect x="1172" y="252" width="5" height="2" fill="#2f87a3"/>
<rect x="1182" y="240" width="1" height="13" fill="#4a4a4a"/>
<rect x="1179" y="250" width="7" height="3" fill="#1f5a6e"/>
<rect x="1180" y="251" width="5" height="1" fill="#2f87a3"/>
<rect x="1190" y="245" width="1" height="13" fill="#4a4a4a"/>
<rect x="1187" y="245" width="7" height="7" fill="#1f5a6e"/>
<rect x="1188" y="246" width="5" height="5" fill="#2f87a3"/>
<rect x="1198" y="243" width="1" height="19" fill="#4a4a4a"/>
<rect x="1195" y="245" width="7" height="11" fill="#7a0000"/>
<rect x="1196" y="246" width="5" height="9" fill="#c40000"/>
<rect x="1206" y="256" width="1" height="15" fill="#4a4a4a"/>
<rect x="1203" y="256" width="7" height="6" fill="#7a0000"/>
<rect x="1204" y="257" width="5" height="4" fill="#c40000"/>
<rect x="1214" y="236" width="1" height="28" fill="#4a4a4a"/>
<rect x="1211" y="245" width="7" height="17" fill="#1f5a6e"/>
<rect x="1212" y="246" width="5" height="15" fill="#2f87a3"/>
<rect x="1222" y="237" width="1" height="13" fill="#4a4a4a"/>
<rect x="1219" y="243" width="7" height="3" fill="#1f5a6e"/>
<rect x="1220" y="244" width="5" height="1" fill="#2f87a3"/>
<rect x="1230" y="237" width="1" height="14" fill="#4a4a4a"/>
<rect x="1227" y="244" width="7" height="3" fill="#1f5a6e"/>
<rect x="1228" y="245" width="5" height="1" fill="#2f87a3"/>
<rect x="1238" y="238" width="1" height="11" fill="#4a4a4a"/>
<rect x="1235" y="243" width="7" height="3" fill="#1f5a6e"/>
<rect x="1236" y="244" width="5" height="1" fill="#2f87a3"/>
<rect x="1246" y="225" width="1" height="24" fill="#4a4a4a"/>
<rect x="1243" y="243" width="7" height="4" fill="#7a0000"/>
<rect x="1244" y="244" width="5" height="2" fill="#c40000"/>
<rect x="1254" y="238" width="1" height="22" fill="#4a4a4a"/>
<rect x="1251" y="245" width="7" height="12" fill="#7a0000"/>
<rect x="1252" y="246" width="5" height="10" fill="#c40000"/>
<rect x="1262" y="253" width="1" height="8" fill="#4a4a4a"/>
<rect x="1259" y="256" width="7" height="3" fill="#7a0000"/>
<rect x="1260" y="257" width="5" height="1" fill="#c40000"/>
<rect x="1270" y="255" width="1" height="36" fill="#4a4a4a"/>
<rect x="1267" y="257" width="7" height="30" fill="#7a0000"/>
<rect x="1268" y="258" width="5" height="28" fill="#c40000"/>
<rect x="1278" y="286" width="1" height="27" fill="#4a4a4a"/>
<rect x="1275" y="286" width="7" height="24" fill="#7a0000"/>
<rect x="1276" y="287" width="5" height="22" fill="#c40000"/>
<rect x="1286" y="297" width="1" height="21" fill="#4a4a4a"/>
<rect x="1283" y="299" width="7" height="12" fill="#1f5a6e"/>
<rect x="1284" y="300" width="5" height="10" fill="#2f87a3"/>
<rect x="1294" y="298" width="1" height="10" fill="#4a4a4a"/>
<rect x="1291" y="298" width="7" height="3" fill="#7a0000"/>
<rect x="1292" y="299" width="5" height="1" fill="#c40000"/>
<rect x="1302" y="289" width="1" height="19" fill="#4a4a4a"/>
<rect x="1299" y="298" width="7" height="1" fill="#4a4a4a"/>
<rect x="1310" y="298" width="1" height="17" fill="#4a4a4a"/>
<rect x="1307" y="298" width="7" height="5" fill="#7a0000"/>
<rect x="1308" y="299" width="5" height="3" fill="#c40000"/>
<rect x="1318" y="298" width="1" height="19" fill="#4a4a4a"/>
<rect x="1315" y="302" width="7" height="12" fill="#7a0000"/>
<rect x="1316" y="303" width="5" height="10" fill="#c40000"/>
<rect x="1326" y="303" width="1" height="14" fill="#4a4a4a"/>
<rect x="1323" y="307" width="7" height="8" fill="#1f5a6e"/>
<rect x="1324" y="308" width="5" height="6" fill="#2f87a3"/>
</g>
<path d="M838.5 577.2 L846.5 586.8 L854.5 559.1 L862.5 521.7 L870.5 501.5 L878.5 528.1 L886.5 541.6 L894.5 551.4 L902.5 550.1 L910.5 540.5 L918.5 545.7 L926.5 551.4 L934.5 572.1 L942.5 587.6 L950.5 592.2 L958.5 577.2 L966.5 588.1 L974.5 596.6 L982.5 601.3 L990.5 611.6 L998.5 615.2 L1006.5 618.6 L1014.5 609.5 L1022.5 611.3 L1030.5 607.7 L1038.5 609.5 L1046.5 631.5 L1054.5 634.1 L1062.5 635.9 L1070.5 638 L1078.5 639.8 L1086.5 621.9 L1094.5 620.4 L1102.5 623.2 L1110.5 625.3 L1118.5 612.6 L1126.5 617.3 L1134.5 620.4 L1142.5 604.4 L1150.5 603.1 L1158.5 516.5 L1166.5 482.4 L1174.5 506 L1182.5 508 L1190.5 520.3 L1198.5 536.1 L1206.5 548.4 L1214.5 509.4 L1222.5 521.2 L1230.5 533.2 L1238.5 542.4 L1246.5 518.3 L1254.5 538.9 L1262.5 546.7 L1270.5 570.5 L1278.5 584.3 L1286.5 592.9 L1294.5 596.6 L1302.5 579.7 L1310.5 589.1 L1318.5 597.2 L1326.5 601.5" fill="none" stroke="#008000" stroke-width="1.050" stroke-linejoin="round"/>
<path d="M838.5 542.4 L846.5 533.3 L854.5 537.7 L862.5 548.8 L870.5 549.6 L878.5 559.1 L886.5 568.2 L894.5 575.9 L902.5 580.3 L910.5 578.5 L918.5 577.8 L926.5 581.1 L934.5 572.8 L942.5 561.7 L950.5 550.6 L958.5 552.2 L966.5 541.1 L974.5 529.9 L982.5 517.8 L990.5 499.1 L998.5 482.3 L1006.5 466.8 L1014.5 456.4 L1022.5 448.7 L1030.5 444.8 L1038.5 441.7 L1046.5 421.6 L1054.5 403.5 L1062.5 384.1 L1070.5 367.3 L1078.5 352.3 L1086.5 348.4 L1094.5 347.9 L1102.5 346.1 L1110.5 343.5 L1118.5 348.4 L1126.5 351.3 L1134.5 351.3 L1142.5 362.1 L1150.5 371.2 L1158.5 399.6 L1166.5 414.6 L1174.5 426.7 L1182.5 434.5 L1190.5 448.6 L1198.5 465.8 L1206.5 488.8 L1214.5 493.6 L1222.5 498.8 L1230.5 504.5 L1238.5 508.3 L1246.5 502.2 L1254.5 511.7 L1262.5 522.3 L1270.5 522.3 L1278.5 512.6 L1286.5 503.1 L1294.5 493.9 L1302.5 496.5 L1310.5 494.5 L1318.5 491 L1326.5 488.2" fill="none" stroke="#0000ff" stroke-width="1.050" stroke-linejoin="round"/>
<path d="M838.5 507.5 L846.5 498.4 L854.5 523 L862.5 543.6 L870.5 557.3 L878.5 542.9 L886.5 552.7 L894.5 561 L902.5 569 L910.5 574.7 L918.5 577.8 L926.5 568.7 L934.5 496.6 L942.5 507.5 L950.5 519.1 L958.5 538 L966.5 500.5 L974.5 503.6 L982.5 509.3 L990.5 474.7 L998.5 479 L1006.5 482.4 L1014.5 489.4 L1022.5 497.6 L1030.5 507.5 L1038.5 516.5 L1046.5 373.2 L1054.5 375.6 L1062.5 368.6 L1070.5 395.2 L1078.5 405.3 L1086.5 435.8 L1094.5 464.2 L1102.5 462.4 L1110.5 465.5 L1118.5 482.3 L1126.5 485.6 L1134.5 481.8 L1142.5 499.1 L1150.5 511.3 L1158.5 550.1 L1166.5 570.8 L1174.5 579.7 L1182.5 586.3 L1190.5 574.2 L1198.5 572.5 L1206.5 552.4 L1214.5 571.3 L1222.5 577.1 L1230.5 582 L1238.5 586.8 L1246.5 598.3 L1254.5 572.5 L1262.5 573.4 L1270.5 501.7 L1278.5 467.2 L1286.5 477.3 L1294.5 493.1 L1302.5 510.3 L1310.5 506.5 L1318.5 518.3 L1326.5 530.9" fill="none" stroke="#ff0000" stroke-width="1.050" stroke-linejoin="round"/>
<path d="M754 291.2 L759 286.2 H815 V296.2 H759 Z" fill="#1a1a1a"/>
<path d="M754 490.5 L759 485.5 H815 V495.5 H759 Z" fill="#2222ff"/>
<path d="M754 532.4 L759 527.4 H815 V537.4 H759 Z" fill="#ff2222"/>
<path d="M754 602.3 L759 597.3 H815 V607.3 H759 Z" fill="#1e8a1e"/>
<path d="M1336 307.4 L1341 302.4 H1397 V312.4 H1341 Z" fill="#1a1a1a"/>
<path d="M1336 488.6 L1341 483.6 H1397 V493.6 H1341 Z" fill="#2222ff"/>
<path d="M1336 530.4 L1341 525.4 H1397 V535.4 H1341 Z" fill="#ff2222"/>
<path d="M1336 601.6 L1341 596.6 H1397 V606.6 H1341 Z" fill="#1e8a1e"/>
<path d="M11 674H62L69 681.5L62 689H11Z" fill="#000"/>
<rect x="744" y="674" width="51" height="15" fill="#000" shape-rendering="crispEdges"/>
<path d="M838 674H889L896 681.5L889 689H838Z" fill="#000"/>
<rect x="1326" y="674" width="49" height="15" fill="#000" shape-rendering="crispEdges"/>
<path d="M1375 673L1384.3 681.5L1375 690Z" fill="#ff0000"/>
<path d="M742 39.8l3.600 -3.600l3.600 3.600M742 44.3l3.600 -3.600l3.600 3.600" fill="none" stroke="#000" stroke-width="1.9" stroke-linecap="square" stroke-linejoin="miter"/>
<path d="M742 338l3.600 -3.600l3.600 3.600M742 342.5l3.600 -3.600l3.600 3.600" fill="none" stroke="#000" stroke-width="1.9" stroke-linecap="square" stroke-linejoin="miter"/>
<path d="M1324 39.8l3.600 -3.600l3.600 3.600M1324 44.3l3.600 -3.600l3.600 3.600" fill="none" stroke="#000" stroke-width="1.9" stroke-linecap="square" stroke-linejoin="miter"/>
<path d="M1324 335l3.600 -3.600l3.600 3.600M1324 339.5l3.600 -3.600l3.600 3.600" fill="none" stroke="#000" stroke-width="1.9" stroke-linecap="square" stroke-linejoin="miter"/>
<circle cx="501.5" cy="42.5" r="10.900" fill="#d0d0d0"/>
<circle cx="501.5" cy="42.5" r="9.100" fill="#e2e2e2"/>
<path d="M501 36l-7 6.5l7 6.5zM509 36l-7 6.5l7 6.5z" fill="#5e5e5e"/>
<circle cx="526.5" cy="42.5" r="10.900" fill="#d0d0d0"/>
<circle cx="526.5" cy="42.5" r="9.100" fill="#e2e2e2"/>
<path d="M530 36l-7 6.5l7 6.5z" fill="#5e5e5e"/>
<circle cx="551.5" cy="42.5" r="10.900" fill="#d0d0d0"/>
<circle cx="551.5" cy="42.5" r="9.100" fill="#e2e2e2"/>
<path d="M548.2 36l7 6.5l-7 6.5z" fill="#5e5e5e"/>
<circle cx="576.5" cy="42.5" r="10.900" fill="#d0d0d0"/>
<circle cx="576.5" cy="42.5" r="9.100" fill="#e2e2e2"/>
<path d="M569 36l7 6.5l-7 6.5zM577 36l7 6.5l-7 6.5z" fill="#5e5e5e"/>
<circle cx="601.5" cy="42.5" r="10.900" fill="#d0d0d0"/>
<circle cx="601.5" cy="42.5" r="9.100" fill="#e2e2e2"/>
<circle cx="601.5" cy="42.5" r="7.2" fill="none" stroke="#5e5e5e" stroke-width="1"/>
<path d="M597.5 42.5h8M601.5 38.5v8" stroke="#5e5e5e" stroke-width="1.7" fill="none"/>
<circle cx="626.5" cy="42.5" r="10.900" fill="#d0d0d0"/>
<circle cx="626.5" cy="42.5" r="9.100" fill="#e2e2e2"/>
<circle cx="626.5" cy="42.5" r="7.2" fill="none" stroke="#5e5e5e" stroke-width="1"/>
<path d="M622.3 42.5h8.4" stroke="#5e5e5e" stroke-width="1.7" fill="none"/>
<circle cx="651.5" cy="42.5" r="10.900" fill="#d0d0d0"/>
<circle cx="651.5" cy="42.5" r="9.100" fill="#e2e2e2"/>
<path d="M644.5 36.0v13M658.7 36.0v13" stroke="#5e5e5e" stroke-width="1" fill="none"/>
<circle cx="652.8" cy="40.3" r="4" fill="none" stroke="#5e5e5e" stroke-width="1.7"/>
<path d="M649.9 43.5l-5 4.300" stroke="#5e5e5e" stroke-width="2" fill="none"/>
<circle cx="676.5" cy="42.5" r="10.900" fill="#d0d0d0"/>
<circle cx="676.5" cy="42.5" r="9.100" fill="#e2e2e2"/>
<path d="M676.5 34.0v16.500" stroke="#5e5e5e" stroke-width="1.6" fill="none"/>
<path d="M669.0 42.5h4M684.0 42.5h-4" stroke="#5e5e5e" stroke-width="1.2" fill="none"/>
<path d="M674.9 42.5l-4.200 -3.500v7zM678.1 42.5l4.200 -3.500v7z" fill="#5e5e5e"/>
<circle cx="701.5" cy="42.5" r="10.900" fill="#d0d0d0"/>
<circle cx="701.5" cy="42.5" r="9.100" fill="#e2e2e2"/>
<path d="M701.5 34.0v16.500" stroke="#5e5e5e" stroke-width="1" fill="none"/>
<rect x="699.7" y="35.5" width="3.600" height="13" fill="#d4d4d4" stroke="#5e5e5e" stroke-width="1"/>
<path d="M693.2 42.5h3.500M709.8 42.5h-3.500" stroke="#5e5e5e" stroke-width="1.2" fill="none"/>
<path d="M698.9 42.5l-4 -3.500v7zM704.1 42.5l4 -3.500v7z" fill="#5e5e5e"/>
<circle cx="726.5" cy="42.5" r="10.900" fill="#d0d0d0"/>
<circle cx="726.5" cy="42.5" r="9.100" fill="#e2e2e2"/>
<path d="M722.2 36l7 6.5l-7 6.5z" fill="#5e5e5e"/>
<path d="M730.8 36.0v13" stroke="#5e5e5e" stroke-width="1.2" fill="none"/>
<circle cx="1083.5" cy="42.5" r="10.900" fill="#d0d0d0"/>
<circle cx="1083.5" cy="42.5" r="9.100" fill="#e2e2e2"/>
<path d="M1083 36l-7 6.5l7 6.5zM1091 36l-7 6.5l7 6.5z" fill="#5e5e5e"/>
<circle cx="1108.5" cy="42.5" r="10.900" fill="#d0d0d0"/>
<circle cx="1108.5" cy="42.5" r="9.100" fill="#e2e2e2"/>
<path d="M1112 36l-7 6.5l7 6.5z" fill="#5e5e5e"/>
<circle cx="1133.5" cy="42.5" r="10.900" fill="#d0d0d0"/>
<circle cx="1133.5" cy="42.5" r="9.100" fill="#e2e2e2"/>
<path d="M1130.2 36l7 6.5l-7 6.5z" fill="#5e5e5e"/>
<circle cx="1158.5" cy="42.5" r="10.900" fill="#d0d0d0"/>
<circle cx="1158.5" cy="42.5" r="9.100" fill="#e2e2e2"/>
<path d="M1151 36l7 6.5l-7 6.5zM1159 36l7 6.5l-7 6.5z" fill="#5e5e5e"/>
<circle cx="1183.5" cy="42.5" r="10.900" fill="#d0d0d0"/>
<circle cx="1183.5" cy="42.5" r="9.100" fill="#e2e2e2"/>
<circle cx="1183.5" cy="42.5" r="7.2" fill="none" stroke="#5e5e5e" stroke-width="1"/>
<path d="M1179.5 42.5h8M1183.5 38.5v8" stroke="#5e5e5e" stroke-width="1.7" fill="none"/>
<circle cx="1208.5" cy="42.5" r="10.900" fill="#d0d0d0"/>
<circle cx="1208.5" cy="42.5" r="9.100" fill="#e2e2e2"/>
<circle cx="1208.5" cy="42.5" r="7.2" fill="none" stroke="#5e5e5e" stroke-width="1"/>
<path d="M1204.3 42.5h8.4" stroke="#5e5e5e" stroke-width="1.7" fill="none"/>
<circle cx="1233.5" cy="42.5" r="10.900" fill="#d0d0d0"/>
<circle cx="1233.5" cy="42.5" r="9.100" fill="#e2e2e2"/>
<path d="M1226.5 36.0v13M1240.7 36.0v13" stroke="#5e5e5e" stroke-width="1" fill="none"/>
<circle cx="1234.8" cy="40.3" r="4" fill="none" stroke="#5e5e5e" stroke-width="1.7"/>
<path d="M1231.9 43.5l-5 4.300" stroke="#5e5e5e" stroke-width="2" fill="none"/>
<circle cx="1258.5" cy="42.5" r="10.900" fill="#d0d0d0"/>
<circle cx="1258.5" cy="42.5" r="9.100" fill="#e2e2e2"/>
<path d="M1258.5 34.0v16.500" stroke="#5e5e5e" stroke-width="1.6" fill="none"/>
<path d="M1251.0 42.5h4M1266.0 42.5h-4" stroke="#5e5e5e" stroke-width="1.2" fill="none"/>
<path d="M1256.9 42.5l-4.200 -3.500v7zM1260.1 42.5l4.200 -3.500v7z" fill="#5e5e5e"/>
<circle cx="1283.5" cy="42.5" r="10.900" fill="#d0d0d0"/>
<circle cx="1283.5" cy="42.5" r="9.100" fill="#e2e2e2"/>
<path d="M1283.5 34.0v16.500" stroke="#5e5e5e" stroke-width="1" fill="none"/>
<rect x="1281.7" y="35.5" width="3.600" height="13" fill="#d4d4d4" stroke="#5e5e5e" stroke-width="1"/>
<path d="M1275.2 42.5h3.500M1291.8 42.5h-3.500" stroke="#5e5e5e" stroke-width="1.2" fill="none"/>
<path d="M1280.9 42.5l-4 -3.500v7zM1286.1 42.5l4 -3.500v7z" fill="#5e5e5e"/>
<circle cx="1308.5" cy="42.5" r="10.900" fill="#d0d0d0"/>
<circle cx="1308.5" cy="42.5" r="9.100" fill="#e2e2e2"/>
<path d="M1304.2 36l7 6.5l-7 6.5z" fill="#5e5e5e"/>
<path d="M1312.8 36.0v13" stroke="#5e5e5e" stroke-width="1.2" fill="none"/>
<rect x="190" y="4" width="1" height="21" fill="#757575" shape-rendering="crispEdges"/>
<rect x="214" y="4" width="1" height="21" fill="#757575" shape-rendering="crispEdges"/>
<rect x="241" y="4" width="1" height="21" fill="#757575" shape-rendering="crispEdges"/>
<rect x="268" y="4" width="1" height="21" fill="#757575" shape-rendering="crispEdges"/>
<rect x="295" y="4" width="1" height="21" fill="#757575" shape-rendering="crispEdges"/>
<rect x="322" y="4" width="1" height="21" fill="#757575" shape-rendering="crispEdges"/>
<path d="M195.5 10V23" stroke="#dcdcdc" stroke-width="1.2"/>
<rect x="193.5" y="12.5" width="4" height="9" fill="#a8a8a8" stroke="#dcdcdc" stroke-width="1"/>
<path d="M201.5 6V19" stroke="#dcdcdc" stroke-width="1.2"/>
<rect x="199.5" y="8.5" width="4" height="9" fill="#a8a8a8" stroke="#dcdcdc" stroke-width="1"/>
<path d="M207.5 5V18" stroke="#dcdcdc" stroke-width="1.2"/>
<rect x="205.5" y="7.5" width="4" height="9" fill="#a8a8a8" stroke="#dcdcdc" stroke-width="1"/>
<g transform="translate(222.6,19.5) rotate(-42.8)"><path d="M0 0L4.500 -3.100H18V3.100H4.500Z" fill="#b8b8b8"/><rect x="14" y="-3.100" width="4" height="6.200" fill="#cbcbcb"/><rect x="5.200" y="-2.100" width="8.300" height="4.200" fill="#6e6e6e"/><path d="M5.500 -1H13.500M6 1H13.500" stroke="#d8d8d8" stroke-width="0.900" stroke-dasharray="1 1"/><rect x="0.200" y="-1.100" width="2.200" height="2.200" fill="#f8f8f8"/></g>
<path d="M247 9.500H265M247 18.500H265" stroke="#dcdcdc" stroke-width="0.9" opacity="0.55"/>
<rect x="247.5" y="11.6" width="2.4" height="2.9" fill="none" stroke="#dcdcdc" stroke-width="0.950"/>
<rect x="249.9" y="8.1" width="2.6" height="6.4" fill="none" stroke="#dcdcdc" stroke-width="0.950"/>
<rect x="252.5" y="9.4" width="2" height="5.1" fill="none" stroke="#dcdcdc" stroke-width="0.950"/>
<rect x="254.5" y="14.5" width="2" height="1.9" fill="none" stroke="#dcdcdc" stroke-width="0.950"/>
<rect x="256.5" y="14.5" width="2" height="3.9" fill="none" stroke="#dcdcdc" stroke-width="0.950"/>
<rect x="258.5" y="14.5" width="2" height="5.2" fill="none" stroke="#dcdcdc" stroke-width="0.950"/>
<rect x="260.5" y="14.5" width="1.7" height="2.6" fill="none" stroke="#dcdcdc" stroke-width="0.950"/>
<rect x="262.2" y="11.6" width="1.7" height="2.9" fill="none" stroke="#dcdcdc" stroke-width="0.950"/>
<rect x="263.9" y="8.1" width="1.6" height="6.4" fill="none" stroke="#dcdcdc" stroke-width="0.950"/>
<path d="M277.7 5.600V21.600L281.6 17.900L283.8 22.600Q285.3 24.300 286.8 22.400L284.6 17.200H288.6Z" fill="none" stroke="#dcdcdc" stroke-width="1.150" stroke-linejoin="miter"/>
<rect x="302" y="6" width="3" height="3" fill="#dcdcdc"/><rect x="302" y="10" width="5" height="3" fill="#dcdcdc"/><rect x="302" y="14" width="8" height="3" fill="#dcdcdc"/><rect x="302" y="18" width="5" height="3" fill="#dcdcdc"/><rect x="310" y="15" width="8" height="1" fill="#dcdcdc"/>
<rect x="1006" y="4" width="1" height="21" fill="#3c3c3c" shape-rendering="crispEdges"/>
<rect x="1030" y="4" width="1" height="21" fill="#3c3c3c" shape-rendering="crispEdges"/>
<rect x="1057" y="4" width="1" height="21" fill="#3c3c3c" shape-rendering="crispEdges"/>
<rect x="1084" y="4" width="1" height="21" fill="#3c3c3c" shape-rendering="crispEdges"/>
<rect x="1111" y="4" width="1" height="21" fill="#3c3c3c" shape-rendering="crispEdges"/>
<rect x="1138" y="4" width="1" height="21" fill="#3c3c3c" shape-rendering="crispEdges"/>
<path d="M1011.5 10V23" stroke="#f2f2f2" stroke-width="1.2"/>
<rect x="1009.5" y="12.5" width="4" height="9" fill="#c8c8c8" stroke="#f2f2f2" stroke-width="1"/>
<path d="M1017.5 6V19" stroke="#f2f2f2" stroke-width="1.2"/>
<rect x="1015.5" y="8.5" width="4" height="9" fill="#c8c8c8" stroke="#f2f2f2" stroke-width="1"/>
<path d="M1023.5 5V18" stroke="#f2f2f2" stroke-width="1.2"/>
<rect x="1021.5" y="7.5" width="4" height="9" fill="#c8c8c8" stroke="#f2f2f2" stroke-width="1"/>
<g transform="translate(1038.6,19.5) rotate(-42.8)"><path d="M0 0L4.500 -3.100H18V3.100H4.500Z" fill="#e6e6e6"/><rect x="14" y="-3.100" width="4" height="6.200" fill="#dadada"/><rect x="5.200" y="-2.100" width="8.300" height="4.200" fill="#3a3a3a"/><path d="M5.500 -1H13.500M6 1H13.500" stroke="#f4f4f4" stroke-width="0.900" stroke-dasharray="1 1"/><rect x="0.200" y="-1.100" width="2.200" height="2.200" fill="#f8f8f8"/></g>
<path d="M1063 9.500H1081M1063 18.500H1081" stroke="#f2f2f2" stroke-width="0.9" opacity="0.55"/>
<rect x="1063.5" y="11.6" width="2.4" height="2.9" fill="none" stroke="#f2f2f2" stroke-width="0.950"/>
<rect x="1065.9" y="8.1" width="2.6" height="6.4" fill="none" stroke="#f2f2f2" stroke-width="0.950"/>
<rect x="1068.5" y="9.4" width="2" height="5.1" fill="none" stroke="#f2f2f2" stroke-width="0.950"/>
<rect x="1070.5" y="14.5" width="2" height="1.9" fill="none" stroke="#f2f2f2" stroke-width="0.950"/>
<rect x="1072.5" y="14.5" width="2" height="3.9" fill="none" stroke="#f2f2f2" stroke-width="0.950"/>
<rect x="1074.5" y="14.5" width="2" height="5.2" fill="none" stroke="#f2f2f2" stroke-width="0.950"/>
<rect x="1076.5" y="14.5" width="1.7" height="2.6" fill="none" stroke="#f2f2f2" stroke-width="0.950"/>
<rect x="1078.2" y="11.6" width="1.7" height="2.9" fill="none" stroke="#f2f2f2" stroke-width="0.950"/>
<rect x="1079.9" y="8.1" width="1.6" height="6.4" fill="none" stroke="#f2f2f2" stroke-width="0.950"/>
<path d="M1093.7 5.600V21.600L1097.6 17.900L1099.8 22.600Q1101.3 24.300 1102.8 22.400L1100.6 17.200H1104.6Z" fill="none" stroke="#f2f2f2" stroke-width="1.150" stroke-linejoin="miter"/>
<rect x="1118" y="6" width="3" height="3" fill="#f2f2f2"/><rect x="1118" y="10" width="5" height="3" fill="#f2f2f2"/><rect x="1118" y="14" width="8" height="3" fill="#f2f2f2"/><rect x="1118" y="18" width="5" height="3" fill="#f2f2f2"/><rect x="1126" y="15" width="8" height="1" fill="#f2f2f2"/>
<circle cx="729.5" cy="13.5" r="8.700" fill="#c8c8c8"/>
<text opacity="0.99" x="729.5" y="19.800" font-family='Liberation Sans' font-size="18.500" font-weight="bold" text-anchor="middle" fill="#4a4a4a" stroke="#4a4a4a" stroke-width="0.700">$</text>
<rect x="741.0" y="4" width="1" height="21" fill="#777" shape-rendering="crispEdges"/>
<path d="M754.5 8.500h3v7h3.200l-4.700 5l-4.700 -5h3.200z" fill="none" stroke="#e8e8e8" stroke-width="1.100"/>
<rect x="776.5" y="9" width="13" height="11" rx="1" fill="#6e6e6e"/><rect x="779.5" y="13" width="7" height="4" rx="1" fill="#555"/>
<path d="M799.8 9l10 10M809.8 9l-10 10" stroke="#707070" stroke-width="3.800" stroke-linecap="round"/>
<circle cx="1311.5" cy="13.5" r="8.7" fill="#fff"/>
<text opacity="0.99" x="1311.5" y="19.800" font-family='Liberation Sans' font-size="18.500" font-weight="bold" text-anchor="middle" fill="#111" stroke="#111" stroke-width="0.700">$</text>
<rect x="1323.0" y="4" width="1" height="21" fill="#444" shape-rendering="crispEdges"/>
<path d="M1336.5 8.500h3v7h3.200l-4.700 5l-4.700 -5h3.200z" fill="none" stroke="#fff" stroke-width="1.100"/>
<rect x="1358.5" y="9" width="13" height="11" rx="1" fill="#9a9a9a"/><rect x="1361.5" y="13" width="7" height="4" rx="1" fill="#000"/>
<path d="M1381.8 9l10 10M1391.8 9l-10 10" stroke="#9a9a9a" stroke-width="3.800" stroke-linecap="round"/>
<rect x="8.700" y="7.400" width="12.800" height="12.800" fill="#00adef"/>
<rect x="826.600" y="7.600" width="12.800" height="12.800" fill="#00adef"/>
</svg>
<div class="ti" style="left:31.2px;top:7px;">SRM6=ФОРТС<span style="margin-left:15.500px">M5</span></div>
<div class="ti" style="left:849.3px;top:6.8px;">SRM6=ФОРТС<span style="margin-left:15.500px">H1</span></div>
<div class="t" style="left:17.2px;top:32.8px;transform:scaleX(.948);transform-origin:0 0;">SRM6=ФОРТС(SBRF-6.16)</div>
<div class="t" style="left:835.2px;top:32.8px;transform:scaleX(.948);transform-origin:0 0;">SRM6=ФОРТС(SBRF-6.16)</div>
<div class="t b" style="left:17.2px;top:330.5px;transform:scaleX(.97);transform-origin:0 0;">ADXHour(SRM6=ФОРТС)</div>
<div class="t b" style="left:835.2px;top:328px;transform:scaleX(.955);transform-origin:0 0;">ADX(SRM6=ФОРТС, 14)</div>
<div class="t" style="left:756.5px;top:76.2px;transform:scaleX(.95);transform-origin:0 0;">13800</div>
<div class="t" style="left:756.5px;top:116.2px;transform:scaleX(.95);transform-origin:0 0;">13600</div>
<div class="t" style="left:756.5px;top:156.2px;transform:scaleX(.95);transform-origin:0 0;">13400</div>
<div class="t" style="left:756.5px;top:195.2px;transform:scaleX(.95);transform-origin:0 0;">13200</div>
<div class="t" style="left:756.5px;top:235.2px;transform:scaleX(.95);transform-origin:0 0;">13000</div>
<div class="t" style="left:756.5px;top:275.2px;transform:scaleX(.95);transform-origin:0 0;">12800</div>
<div class="t" style="left:756.5px;top:314.2px;transform:scaleX(.95);transform-origin:0 0;">12600</div>
<div class="t" style="left:756.5px;top:351.2px;transform:scaleX(.95);transform-origin:0 0;">70</div>
<div class="t" style="left:756.5px;top:393.2px;transform:scaleX(.95);transform-origin:0 0;">60</div>
<div class="t" style="left:756.5px;top:435.2px;transform:scaleX(.95);transform-origin:0 0;">50</div>
<div class="t" style="left:756.5px;top:477.2px;transform:scaleX(.95);transform-origin:0 0;">40</div>
<div class="t" style="left:756.5px;top:519.2px;transform:scaleX(.95);transform-origin:0 0;">30</div>
<div class="t" style="left:756.5px;top:561.2px;transform:scaleX(.95);transform-origin:0 0;">20</div>
<div class="t" style="left:756.5px;top:603.2px;transform:scaleX(.95);transform-origin:0 0;">10</div>
<div class="t" style="left:756.5px;top:645.2px;transform:scaleX(.95);transform-origin:0 0;">0</div>
<div class="t" style="left:1338.5px;top:90.2px;transform:scaleX(.95);transform-origin:0 0;">13800</div>
<div class="t" style="left:1338.5px;top:127.2px;transform:scaleX(.95);transform-origin:0 0;">13600</div>
<div class="t" style="left:1338.5px;top:164.2px;transform:scaleX(.95);transform-origin:0 0;">13400</div>
<div class="t" style="left:1338.5px;top:201.2px;transform:scaleX(.95);transform-origin:0 0;">13200</div>
<div class="t" style="left:1338.5px;top:238.2px;transform:scaleX(.95);transform-origin:0 0;">13000</div>
<div class="t" style="left:1338.5px;top:275.2px;transform:scaleX(.95);transform-origin:0 0;">12800</div>
<div class="t" style="left:1338.5px;top:312.2px;transform:scaleX(.95);transform-origin:0 0;">12600</div>
<div class="t" style="left:1338.5px;top:347.2px;transform:scaleX(.95);transform-origin:0 0;">70</div>
<div class="t" style="left:1338.5px;top:390.2px;transform:scaleX(.95);transform-origin:0 0;">60</div>
<div class="t" style="left:1338.5px;top:432.2px;transform:scaleX(.95);transform-origin:0 0;">50</div>
<div class="t" style="left:1338.5px;top:475.2px;transform:scaleX(.95);transform-origin:0 0;">40</div>
<div class="t" style="left:1338.5px;top:517.2px;transform:scaleX(.95);transform-origin:0 0;">30</div>
<div class="t" style="left:1338.5px;top:560.2px;transform:scaleX(.95);transform-origin:0 0;">20</div>
<div class="t" style="left:1338.5px;top:602.2px;transform:scaleX(.95);transform-origin:0 0;">10</div>
<div class="t" style="left:1338.5px;top:645.2px;transform:scaleX(.95);transform-origin:0 0;">0</div>
<div class="t w" style="left:759.5px;top:285.9px;transform:scaleX(.95);transform-origin:0 0;">12742</div>
<div class="t w" style="left:759.3px;top:485.2px;transform:scaleX(.95);transform-origin:0 0;">38</div>
<div class="t w" style="left:759.3px;top:527.1px;transform:scaleX(.95);transform-origin:0 0;">28,16</div>
<div class="t w" style="left:759.3px;top:597px;transform:scaleX(.95);transform-origin:0 0;">11,48</div>
<div class="t w" style="left:1341px;top:302.1px;transform:scaleX(.95);transform-origin:0 0;">12652</div>
<div class="t w" style="left:1340.6px;top:483.3px;transform:scaleX(.95);transform-origin:0 0;">37,99</div>
<div class="t w" style="left:1340.6px;top:525.1px;transform:scaleX(.95);transform-origin:0 0;">28,16</div>
<div class="t w" style="left:1340.6px;top:596.3px;transform:scaleX(.95);transform-origin:0 0;">11,48</div>
<div class="t" style="left:16px;top:659.5px;">11:25</div>
<div class="t" style="left:91px;top:659.5px;">17:50</div>
<div class="t" style="left:165px;top:659.5px;">10:20</div>
<div class="t" style="left:238px;top:659.5px;">16:30</div>
<div class="t" style="left:311px;top:659.5px;">22:50</div>
<div class="t" style="left:384px;top:659.5px;">15:10</div>
<div class="t" style="left:457px;top:659.5px;">21:30</div>
<div class="t" style="left:530px;top:659.5px;">13:45</div>
<div class="t" style="left:603px;top:659.5px;">20:15</div>
<div class="t" style="left:676px;top:659.5px;">12:30</div>
<div class="t" style="left:749px;top:659.5px;">18:40</div>
<div class="t" style="left:165px;top:675.5px;">10/06/16</div>
<div class="t" style="left:384px;top:675.5px;">14/06/16</div>
<div class="t" style="left:530px;top:675.5px;">15/06/16</div>
<div class="t" style="left:646px;top:675.5px;">16/06/16</div>
<div class="t w" style="left:15px;top:675.5px;letter-spacing:.15px;">09/06/16</div>
<div class="t w" style="left:748.6px;top:675.5px;letter-spacing:.25px;">16/06/16</div>
<div class="t" style="left:843px;top:659.5px;">12:00</div>
<div class="t" style="left:899px;top:659.5px;">19:00</div>
<div class="t" style="left:947px;top:659.5px;">11:00</div>
<div class="t" style="left:995px;top:659.5px;">17:00</div>
<div class="t" style="left:1043px;top:659.5px;">23:00</div>
<div class="t" style="left:1091px;top:659.5px;">15:00</div>
<div class="t" style="left:1139px;top:659.5px;">21:00</div>
<div class="t" style="left:1187px;top:659.5px;">13:00</div>
<div class="t" style="left:1235px;top:659.5px;">19:00</div>
<div class="t" style="left:1283px;top:659.5px;">11:00</div>
<div class="t" style="left:1331px;top:659.5px;">17:00</div>
<div class="t" style="left:947px;top:675.5px;">10/06/16</div>
<div class="t" style="left:1091px;top:675.5px;">14/06/16</div>
<div class="t" style="left:1187px;top:675.5px;">15/06/16</div>
<div class="t" style="left:1275px;top:675.5px;">16/06/16</div>
<div class="t w" style="left:842px;top:675.5px;letter-spacing:.15px;">09/06/16</div>
<div class="t w" style="left:1330.3px;top:675.5px;letter-spacing:.25px;">16/06/16</div>
</body></html>
